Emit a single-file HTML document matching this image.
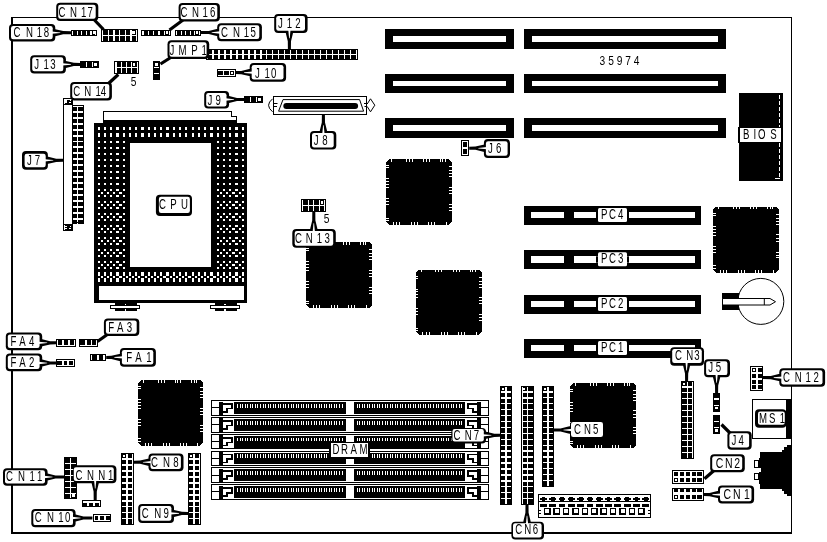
<!DOCTYPE html>
<html><head><meta charset="utf-8"><title>Motherboard layout 35974</title>
<style>
html,body{margin:0;padding:0;background:#fff;}
body{width:827px;height:542px;overflow:hidden;}
svg{display:block;will-change:transform;}
svg text{font-family:"Liberation Sans",sans-serif;fill:#000;}
</style></head><body>
<svg width="827" height="542" viewBox="0 0 827 542">
<rect x="0" y="0" width="827" height="542" fill="#fff"/>
<g shape-rendering="crispEdges">
<rect x="11" y="17" width="2" height="517" fill="#000"/>
<rect x="11" y="17" width="781" height="1" fill="#000"/>
<rect x="791" y="17" width="1" height="517" fill="#000"/>
<rect x="11" y="532" width="781" height="2" fill="#000"/>
<rect x="385" y="29" width="129" height="20" fill="#000"/>
<rect x="393" y="35.5" width="113" height="6.5" fill="#fff"/>
<rect x="524" y="29" width="202" height="20" fill="#000"/>
<rect x="532" y="35.5" width="185.5" height="6.5" fill="#fff"/>
<rect x="385" y="74" width="129" height="19" fill="#000"/>
<rect x="393" y="80.5" width="113" height="5.5" fill="#fff"/>
<rect x="524" y="74" width="202" height="19" fill="#000"/>
<rect x="532" y="80.5" width="185.5" height="5.5" fill="#fff"/>
<rect x="385" y="118" width="129" height="20" fill="#000"/>
<rect x="393" y="124.5" width="113" height="6.5" fill="#fff"/>
<rect x="524" y="118" width="202" height="20" fill="#000"/>
<rect x="532" y="124.5" width="185.5" height="6.5" fill="#fff"/>
<rect x="524" y="206" width="177" height="19" fill="#000"/>
<rect x="531" y="212" width="33.2" height="6.2" fill="#fff"/>
<rect x="573.5" y="212" width="121" height="6.2" fill="#fff"/>
<rect x="524" y="250.3" width="177" height="19" fill="#000"/>
<rect x="531" y="256.3" width="33.2" height="6.2" fill="#fff"/>
<rect x="573.5" y="256.3" width="121" height="6.2" fill="#fff"/>
<rect x="524" y="295" width="177" height="19" fill="#000"/>
<rect x="531" y="301" width="33.2" height="6.2" fill="#fff"/>
<rect x="573.5" y="301" width="121" height="6.2" fill="#fff"/>
<rect x="524" y="339" width="177" height="19" fill="#000"/>
<rect x="531" y="345" width="33.2" height="6.2" fill="#fff"/>
<rect x="573.5" y="345" width="121" height="6.2" fill="#fff"/>
<polygon points="389,159 448.5,159 451.5,162 451.5,222 448.5,225 389,225 386,222 386,162" fill="#000"/>
<path d="M391.39 158.8h1v3h-1zM405.81 158.8h1v3h-1zM408.75 158.8h1v3h-1zM411.7 158.8h1v3h-1zM422.83 158.8h1v3h-1zM425.78 158.8h1v3h-1zM428.73 158.8h1v3h-1zM439.87 158.8h1v3h-1zM442.49 158.8h1v3h-1zM444.78 158.8h1v3h-1zM392.7 222.2h1v3h-1zM395.98 222.2h1v3h-1zM399.25 222.2h1v3h-1zM411.05 222.2h1v3h-1zM413.99 222.2h1v3h-1zM416.94 222.2h1v3h-1zM428.07 222.2h1v3h-1zM431.02 222.2h1v3h-1zM433.97 222.2h1v3h-1zM445.76 222.2h1v3h-1zM385.8 165.1h3v1h-3zM385.8 167.41h3v1h-3zM385.8 178.3h3v1h-3zM385.8 181.27h3v1h-3zM385.8 184.24h3v1h-3zM385.8 187.21h3v1h-3zM385.8 198.1h3v1h-3zM385.8 201.07h3v1h-3zM385.8 204.04h3v1h-3zM385.8 217.9h3v1h-3zM385.8 220.21h3v1h-3zM448.7 166.42h3v1h-3zM448.7 170.38h3v1h-3zM448.7 173.35h3v1h-3zM448.7 176.32h3v1h-3zM448.7 186.88h3v1h-3zM448.7 190.18h3v1h-3zM448.7 193.48h3v1h-3zM448.7 204.04h3v1h-3zM448.7 207.01h3v1h-3zM448.7 209.98h3v1h-3z" fill="#fff"/>
<polygon points="309,242 369,242 372,245 372,305 369,308 309,308 306,305 306,245" fill="#000"/>
<path d="M311.44 241.8h1v3h-1zM325.96 241.8h1v3h-1zM328.93 241.8h1v3h-1zM331.9 241.8h1v3h-1zM343.12 241.8h1v3h-1zM346.09 241.8h1v3h-1zM349.06 241.8h1v3h-1zM360.28 241.8h1v3h-1zM362.92 241.8h1v3h-1zM365.23 241.8h1v3h-1zM312.76 305.2h1v3h-1zM316.06 305.2h1v3h-1zM319.36 305.2h1v3h-1zM331.24 305.2h1v3h-1zM334.21 305.2h1v3h-1zM337.18 305.2h1v3h-1zM348.4 305.2h1v3h-1zM351.37 305.2h1v3h-1zM354.34 305.2h1v3h-1zM366.22 305.2h1v3h-1zM305.8 248.1h3v1h-3zM305.8 250.41h3v1h-3zM305.8 261.3h3v1h-3zM305.8 264.27h3v1h-3zM305.8 267.24h3v1h-3zM305.8 270.21h3v1h-3zM305.8 281.1h3v1h-3zM305.8 284.07h3v1h-3zM305.8 287.04h3v1h-3zM305.8 300.9h3v1h-3zM305.8 303.21h3v1h-3zM369.2 249.42h3v1h-3zM369.2 253.38h3v1h-3zM369.2 256.35h3v1h-3zM369.2 259.32h3v1h-3zM369.2 269.88h3v1h-3zM369.2 273.18h3v1h-3zM369.2 276.48h3v1h-3zM369.2 287.04h3v1h-3zM369.2 290.01h3v1h-3zM369.2 292.98h3v1h-3z" fill="#fff"/>
<polygon points="418.5,269.5 478.5,269.5 481.5,272.5 481.5,331.5 478.5,334.5 418.5,334.5 415.5,331.5 415.5,272.5" fill="#000"/>
<path d="M420.94 269.3h1v3h-1zM435.46 269.3h1v3h-1zM438.43 269.3h1v3h-1zM441.4 269.3h1v3h-1zM452.62 269.3h1v3h-1zM455.59 269.3h1v3h-1zM458.56 269.3h1v3h-1zM469.78 269.3h1v3h-1zM472.42 269.3h1v3h-1zM474.73 269.3h1v3h-1zM422.26 331.7h1v3h-1zM425.56 331.7h1v3h-1zM428.86 331.7h1v3h-1zM440.74 331.7h1v3h-1zM443.71 331.7h1v3h-1zM446.68 331.7h1v3h-1zM457.9 331.7h1v3h-1zM460.87 331.7h1v3h-1zM463.84 331.7h1v3h-1zM475.72 331.7h1v3h-1zM415.3 275.5h3v1h-3zM415.3 277.77h3v1h-3zM415.3 288.5h3v1h-3zM415.3 291.43h3v1h-3zM415.3 294.35h3v1h-3zM415.3 297.27h3v1h-3zM415.3 308h3v1h-3zM415.3 310.93h3v1h-3zM415.3 313.85h3v1h-3zM415.3 327.5h3v1h-3zM415.3 329.77h3v1h-3zM478.7 276.8h3v1h-3zM478.7 280.7h3v1h-3zM478.7 283.62h3v1h-3zM478.7 286.55h3v1h-3zM478.7 296.95h3v1h-3zM478.7 300.2h3v1h-3zM478.7 303.45h3v1h-3zM478.7 313.85h3v1h-3zM478.7 316.77h3v1h-3zM478.7 319.7h3v1h-3z" fill="#fff"/>
<polygon points="716,206.5 776,206.5 779,209.5 779,269.5 776,272.5 716,272.5 713,269.5 713,209.5" fill="#000"/>
<path d="M718.44 206.3h1v3h-1zM732.96 206.3h1v3h-1zM735.93 206.3h1v3h-1zM738.9 206.3h1v3h-1zM750.12 206.3h1v3h-1zM753.09 206.3h1v3h-1zM756.06 206.3h1v3h-1zM767.28 206.3h1v3h-1zM769.92 206.3h1v3h-1zM772.23 206.3h1v3h-1zM719.76 269.7h1v3h-1zM723.06 269.7h1v3h-1zM726.36 269.7h1v3h-1zM738.24 269.7h1v3h-1zM741.21 269.7h1v3h-1zM744.18 269.7h1v3h-1zM755.4 269.7h1v3h-1zM758.37 269.7h1v3h-1zM761.34 269.7h1v3h-1zM773.22 269.7h1v3h-1zM712.8 212.6h3v1h-3zM712.8 214.91h3v1h-3zM712.8 225.8h3v1h-3zM712.8 228.77h3v1h-3zM712.8 231.74h3v1h-3zM712.8 234.71h3v1h-3zM712.8 245.6h3v1h-3zM712.8 248.57h3v1h-3zM712.8 251.54h3v1h-3zM712.8 265.4h3v1h-3zM712.8 267.71h3v1h-3zM776.2 213.92h3v1h-3zM776.2 217.88h3v1h-3zM776.2 220.85h3v1h-3zM776.2 223.82h3v1h-3zM776.2 234.38h3v1h-3zM776.2 237.68h3v1h-3zM776.2 240.98h3v1h-3zM776.2 251.54h3v1h-3zM776.2 254.51h3v1h-3zM776.2 257.48h3v1h-3z" fill="#fff"/>
<polygon points="141,380 200,380 203,383 203,442.5 200,445.5 141,445.5 138,442.5 138,383" fill="#000"/>
<path d="M143.35 379.8h1v3h-1zM157.65 379.8h1v3h-1zM160.57 379.8h1v3h-1zM163.5 379.8h1v3h-1zM174.55 379.8h1v3h-1zM177.47 379.8h1v3h-1zM180.4 379.8h1v3h-1zM191.45 379.8h1v3h-1zM194.05 379.8h1v3h-1zM196.32 379.8h1v3h-1zM144.65 442.7h1v3h-1zM147.9 442.7h1v3h-1zM151.15 442.7h1v3h-1zM162.85 442.7h1v3h-1zM165.78 442.7h1v3h-1zM168.7 442.7h1v3h-1zM179.75 442.7h1v3h-1zM182.68 442.7h1v3h-1zM185.6 442.7h1v3h-1zM197.3 442.7h1v3h-1zM137.8 386.05h3v1h-3zM137.8 388.34h3v1h-3zM137.8 399.15h3v1h-3zM137.8 402.1h3v1h-3zM137.8 405.05h3v1h-3zM137.8 407.99h3v1h-3zM137.8 418.8h3v1h-3zM137.8 421.75h3v1h-3zM137.8 424.69h3v1h-3zM137.8 438.45h3v1h-3zM137.8 440.74h3v1h-3zM200.2 387.36h3v1h-3zM200.2 391.29h3v1h-3zM200.2 394.24h3v1h-3zM200.2 397.19h3v1h-3zM200.2 407.67h3v1h-3zM200.2 410.94h3v1h-3zM200.2 414.22h3v1h-3zM200.2 424.69h3v1h-3zM200.2 427.64h3v1h-3zM200.2 430.59h3v1h-3z" fill="#fff"/>
<polygon points="573,383 633,383 636,386 636,445 633,448 573,448 570,445 570,386" fill="#000"/>
<path d="M575.44 382.8h1v3h-1zM589.96 382.8h1v3h-1zM592.93 382.8h1v3h-1zM595.9 382.8h1v3h-1zM607.12 382.8h1v3h-1zM610.09 382.8h1v3h-1zM613.06 382.8h1v3h-1zM624.28 382.8h1v3h-1zM626.92 382.8h1v3h-1zM629.23 382.8h1v3h-1zM576.76 445.2h1v3h-1zM580.06 445.2h1v3h-1zM583.36 445.2h1v3h-1zM595.24 445.2h1v3h-1zM598.21 445.2h1v3h-1zM601.18 445.2h1v3h-1zM612.4 445.2h1v3h-1zM615.37 445.2h1v3h-1zM618.34 445.2h1v3h-1zM630.22 445.2h1v3h-1zM569.8 389h3v1h-3zM569.8 391.27h3v1h-3zM569.8 402h3v1h-3zM569.8 404.93h3v1h-3zM569.8 407.85h3v1h-3zM569.8 410.77h3v1h-3zM569.8 421.5h3v1h-3zM569.8 424.43h3v1h-3zM569.8 427.35h3v1h-3zM569.8 441h3v1h-3zM569.8 443.27h3v1h-3zM633.2 390.3h3v1h-3zM633.2 394.2h3v1h-3zM633.2 397.12h3v1h-3zM633.2 400.05h3v1h-3zM633.2 410.45h3v1h-3zM633.2 413.7h3v1h-3zM633.2 416.95h3v1h-3zM633.2 427.35h3v1h-3zM633.2 430.27h3v1h-3zM633.2 433.2h3v1h-3z" fill="#fff"/>
<rect x="739" y="93" width="43.5" height="88" fill="#000"/>
<rect x="779.2" y="95" width="1" height="3.5" fill="#fff"/>
<rect x="779.2" y="101" width="1" height="3.5" fill="#fff"/>
<rect x="779.2" y="107" width="1" height="3.5" fill="#fff"/>
<rect x="779.2" y="113" width="1" height="3.5" fill="#fff"/>
<rect x="779.2" y="119" width="1" height="3.5" fill="#fff"/>
<rect x="779.2" y="125" width="1" height="3.5" fill="#fff"/>
<rect x="779.2" y="131" width="1" height="3.5" fill="#fff"/>
<rect x="779.2" y="137" width="1" height="3.5" fill="#fff"/>
<rect x="779.2" y="143" width="1" height="3.5" fill="#fff"/>
<rect x="779.2" y="149" width="1" height="3.5" fill="#fff"/>
<rect x="779.2" y="155" width="1" height="3.5" fill="#fff"/>
<rect x="779.2" y="161" width="1" height="3.5" fill="#fff"/>
<rect x="779.2" y="167" width="1" height="3.5" fill="#fff"/>
<rect x="779.2" y="173" width="1" height="3.5" fill="#fff"/>
<rect x="775" y="178" width="5.2" height="1" fill="#fff"/>
</g>
<circle cx="760.8" cy="301.4" r="23" fill="#fff" stroke="#000" stroke-width="1"/>
<g shape-rendering="crispEdges">
<rect x="722" y="293" width="17" height="17" fill="#000"/>
</g>
<path d="M722.5 298.5 H770 L775.5 301.7 L770 305 H722.5 Z" fill="#fff" stroke="#000" stroke-width="1"/>
<line x1="764.3" y1="298.5" x2="764.3" y2="305" stroke="#000" stroke-width="1"/>
<g shape-rendering="crispEdges">
<rect x="231.5" y="116.5" width="4.5" height="4" fill="#fff" stroke="#000" stroke-width="1"/>
<rect x="103.5" y="111.5" width="128.2" height="9" fill="#fff" stroke="#000" stroke-width="1"/>
<rect x="231.2" y="117" width="1" height="3" fill="#fff"/>
<rect x="94" y="123.4" width="153" height="179.6" fill="#000"/>
<rect x="103" y="120" width="133.5" height="4" fill="#000"/>
<path d="M97.5 278.4h2.2v3.1h-2.2zM103.77 278.4h2.2v3.1h-2.2zM110.04 278.4h2.2v3.1h-2.2zM116.31 278.4h2.2v3.1h-2.2zM122.58 278.4h2.2v3.1h-2.2zM128.85 278.4h2.2v3.1h-2.2zM135.12 278.4h2.2v3.1h-2.2zM141.39 278.4h2.2v3.1h-2.2zM147.66 278.4h2.2v3.1h-2.2zM153.93 278.4h2.2v3.1h-2.2zM160.2 278.4h2.2v3.1h-2.2zM166.47 278.4h2.2v3.1h-2.2zM172.74 278.4h2.2v3.1h-2.2zM179.01 278.4h2.2v3.1h-2.2zM185.28 278.4h2.2v3.1h-2.2zM191.55 278.4h2.2v3.1h-2.2zM197.82 278.4h2.2v3.1h-2.2zM204.09 278.4h2.2v3.1h-2.2zM210.36 278.4h2.2v3.1h-2.2zM216.63 278.4h2.2v3.1h-2.2zM222.9 278.4h2.2v3.1h-2.2zM229.17 278.4h2.2v3.1h-2.2zM235.44 278.4h2.2v3.1h-2.2zM241.71 278.4h2.2v3.1h-2.2zM97.5 272.4h2.2v3.1h-2.2zM103.77 272.4h2.2v3.1h-2.2zM110.04 272.4h2.2v3.1h-2.2zM116.31 272.4h2.2v3.1h-2.2zM122.58 272.4h2.2v3.1h-2.2zM128.85 272.4h2.2v3.1h-2.2zM135.12 272.4h2.2v3.1h-2.2zM141.39 272.4h2.2v3.1h-2.2zM147.66 272.4h2.2v3.1h-2.2zM153.93 272.4h2.2v3.1h-2.2zM160.2 272.4h2.2v3.1h-2.2zM166.47 272.4h2.2v3.1h-2.2zM172.74 272.4h2.2v3.1h-2.2zM179.01 272.4h2.2v3.1h-2.2zM185.28 272.4h2.2v3.1h-2.2zM191.55 272.4h2.2v3.1h-2.2zM197.82 272.4h2.2v3.1h-2.2zM204.09 272.4h2.2v3.1h-2.2zM210.36 272.4h2.2v3.1h-2.2zM216.63 272.4h2.2v3.1h-2.2zM222.9 272.4h2.2v3.1h-2.2zM229.17 272.4h2.2v3.1h-2.2zM235.44 272.4h2.2v3.1h-2.2zM241.71 272.4h2.2v3.1h-2.2zM97.5 266.6h2.2v2.7h-2.2zM103.77 266.6h2.2v2.7h-2.2zM110.04 266.6h2.2v2.7h-2.2zM116.31 266.6h2.2v2.7h-2.2zM122.58 266.6h2.2v2.7h-2.2zM216.63 266.6h2.2v2.7h-2.2zM222.9 266.6h2.2v2.7h-2.2zM229.17 266.6h2.2v2.7h-2.2zM235.44 266.6h2.2v2.7h-2.2zM241.71 266.6h2.2v2.7h-2.2zM97.5 260.6h2.2v2.7h-2.2zM103.77 260.6h2.2v2.7h-2.2zM110.04 260.6h2.2v2.7h-2.2zM116.31 260.6h2.2v2.7h-2.2zM122.58 260.6h2.2v2.7h-2.2zM216.63 260.6h2.2v2.7h-2.2zM222.9 260.6h2.2v2.7h-2.2zM229.17 260.6h2.2v2.7h-2.2zM235.44 260.6h2.2v2.7h-2.2zM241.71 260.6h2.2v2.7h-2.2zM97.5 254.6h2.2v2.7h-2.2zM103.77 254.6h2.2v2.7h-2.2zM110.04 254.6h2.2v2.7h-2.2zM116.31 254.6h2.2v2.7h-2.2zM122.58 254.6h2.2v2.7h-2.2zM216.63 254.6h2.2v2.7h-2.2zM222.9 254.6h2.2v2.7h-2.2zM229.17 254.6h2.2v2.7h-2.2zM235.44 254.6h2.2v2.7h-2.2zM241.71 254.6h2.2v2.7h-2.2zM97.5 248.6h2.2v2.7h-2.2zM103.77 248.6h2.2v2.7h-2.2zM110.04 248.6h2.2v2.7h-2.2zM116.31 248.6h2.2v2.7h-2.2zM122.58 248.6h2.2v2.7h-2.2zM216.63 248.6h2.2v2.7h-2.2zM222.9 248.6h2.2v2.7h-2.2zM229.17 248.6h2.2v2.7h-2.2zM235.44 248.6h2.2v2.7h-2.2zM241.71 248.6h2.2v2.7h-2.2zM97.5 242.6h2.2v2.7h-2.2zM103.77 242.6h2.2v2.7h-2.2zM110.04 242.6h2.2v2.7h-2.2zM116.31 242.6h2.2v2.7h-2.2zM122.58 242.6h2.2v2.7h-2.2zM216.63 242.6h2.2v2.7h-2.2zM222.9 242.6h2.2v2.7h-2.2zM229.17 242.6h2.2v2.7h-2.2zM235.44 242.6h2.2v2.7h-2.2zM241.71 242.6h2.2v2.7h-2.2zM97.5 236.6h2.2v2.7h-2.2zM103.77 236.6h2.2v2.7h-2.2zM110.04 236.6h2.2v2.7h-2.2zM116.31 236.6h2.2v2.7h-2.2zM122.58 236.6h2.2v2.7h-2.2zM216.63 236.6h2.2v2.7h-2.2zM222.9 236.6h2.2v2.7h-2.2zM229.17 236.6h2.2v2.7h-2.2zM235.44 236.6h2.2v2.7h-2.2zM241.71 236.6h2.2v2.7h-2.2zM97.5 230.6h2.2v2.7h-2.2zM103.77 230.6h2.2v2.7h-2.2zM110.04 230.6h2.2v2.7h-2.2zM116.31 230.6h2.2v2.7h-2.2zM122.58 230.6h2.2v2.7h-2.2zM216.63 230.6h2.2v2.7h-2.2zM222.9 230.6h2.2v2.7h-2.2zM229.17 230.6h2.2v2.7h-2.2zM235.44 230.6h2.2v2.7h-2.2zM241.71 230.6h2.2v2.7h-2.2zM97.5 224.6h2.2v2.7h-2.2zM103.77 224.6h2.2v2.7h-2.2zM110.04 224.6h2.2v2.7h-2.2zM116.31 224.6h2.2v2.7h-2.2zM122.58 224.6h2.2v2.7h-2.2zM216.63 224.6h2.2v2.7h-2.2zM222.9 224.6h2.2v2.7h-2.2zM229.17 224.6h2.2v2.7h-2.2zM235.44 224.6h2.2v2.7h-2.2zM241.71 224.6h2.2v2.7h-2.2zM97.5 218.6h2.2v2.7h-2.2zM103.77 218.6h2.2v2.7h-2.2zM110.04 218.6h2.2v2.7h-2.2zM116.31 218.6h2.2v2.7h-2.2zM122.58 218.6h2.2v2.7h-2.2zM216.63 218.6h2.2v2.7h-2.2zM222.9 218.6h2.2v2.7h-2.2zM229.17 218.6h2.2v2.7h-2.2zM235.44 218.6h2.2v2.7h-2.2zM241.71 218.6h2.2v2.7h-2.2zM97.5 212.6h2.2v2.7h-2.2zM103.77 212.6h2.2v2.7h-2.2zM110.04 212.6h2.2v2.7h-2.2zM116.31 212.6h2.2v2.7h-2.2zM122.58 212.6h2.2v2.7h-2.2zM216.63 212.6h2.2v2.7h-2.2zM222.9 212.6h2.2v2.7h-2.2zM229.17 212.6h2.2v2.7h-2.2zM235.44 212.6h2.2v2.7h-2.2zM241.71 212.6h2.2v2.7h-2.2zM97.5 206.6h2.2v2.7h-2.2zM103.77 206.6h2.2v2.7h-2.2zM110.04 206.6h2.2v2.7h-2.2zM116.31 206.6h2.2v2.7h-2.2zM122.58 206.6h2.2v2.7h-2.2zM216.63 206.6h2.2v2.7h-2.2zM222.9 206.6h2.2v2.7h-2.2zM229.17 206.6h2.2v2.7h-2.2zM235.44 206.6h2.2v2.7h-2.2zM241.71 206.6h2.2v2.7h-2.2zM97.5 200.6h2.2v2.7h-2.2zM103.77 200.6h2.2v2.7h-2.2zM110.04 200.6h2.2v2.7h-2.2zM116.31 200.6h2.2v2.7h-2.2zM122.58 200.6h2.2v2.7h-2.2zM216.63 200.6h2.2v2.7h-2.2zM222.9 200.6h2.2v2.7h-2.2zM229.17 200.6h2.2v2.7h-2.2zM235.44 200.6h2.2v2.7h-2.2zM241.71 200.6h2.2v2.7h-2.2zM97.5 194.6h2.2v2.7h-2.2zM103.77 194.6h2.2v2.7h-2.2zM110.04 194.6h2.2v2.7h-2.2zM116.31 194.6h2.2v2.7h-2.2zM122.58 194.6h2.2v2.7h-2.2zM216.63 194.6h2.2v2.7h-2.2zM222.9 194.6h2.2v2.7h-2.2zM229.17 194.6h2.2v2.7h-2.2zM235.44 194.6h2.2v2.7h-2.2zM241.71 194.6h2.2v2.7h-2.2zM97.5 188.6h2.2v2.7h-2.2zM103.77 188.6h2.2v2.7h-2.2zM110.04 188.6h2.2v2.7h-2.2zM116.31 188.6h2.2v2.7h-2.2zM122.58 188.6h2.2v2.7h-2.2zM216.63 188.6h2.2v2.7h-2.2zM222.9 188.6h2.2v2.7h-2.2zM229.17 188.6h2.2v2.7h-2.2zM235.44 188.6h2.2v2.7h-2.2zM241.71 188.6h2.2v2.7h-2.2zM97.5 182.7h2.2v2.6h-2.2zM103.77 182.7h2.2v2.6h-2.2zM110.04 182.7h2.2v2.6h-2.2zM116.31 182.7h2.2v2.6h-2.2zM122.58 182.7h2.2v2.6h-2.2zM216.63 182.7h2.2v2.6h-2.2zM222.9 182.7h2.2v2.6h-2.2zM229.17 182.7h2.2v2.6h-2.2zM235.44 182.7h2.2v2.6h-2.2zM241.71 182.7h2.2v2.6h-2.2zM97.5 176.7h2.2v2.6h-2.2zM103.77 176.7h2.2v2.6h-2.2zM110.04 176.7h2.2v2.6h-2.2zM116.31 176.7h2.2v2.6h-2.2zM122.58 176.7h2.2v2.6h-2.2zM216.63 176.7h2.2v2.6h-2.2zM222.9 176.7h2.2v2.6h-2.2zM229.17 176.7h2.2v2.6h-2.2zM235.44 176.7h2.2v2.6h-2.2zM241.71 176.7h2.2v2.6h-2.2zM97.5 170.7h2.2v2.6h-2.2zM103.77 170.7h2.2v2.6h-2.2zM110.04 170.7h2.2v2.6h-2.2zM116.31 170.7h2.2v2.6h-2.2zM122.58 170.7h2.2v2.6h-2.2zM216.63 170.7h2.2v2.6h-2.2zM222.9 170.7h2.2v2.6h-2.2zM229.17 170.7h2.2v2.6h-2.2zM235.44 170.7h2.2v2.6h-2.2zM241.71 170.7h2.2v2.6h-2.2zM97.5 164.7h2.2v2.6h-2.2zM103.77 164.7h2.2v2.6h-2.2zM110.04 164.7h2.2v2.6h-2.2zM116.31 164.7h2.2v2.6h-2.2zM122.58 164.7h2.2v2.6h-2.2zM216.63 164.7h2.2v2.6h-2.2zM222.9 164.7h2.2v2.6h-2.2zM229.17 164.7h2.2v2.6h-2.2zM235.44 164.7h2.2v2.6h-2.2zM241.71 164.7h2.2v2.6h-2.2zM97.5 158.7h2.2v2.6h-2.2zM103.77 158.7h2.2v2.6h-2.2zM110.04 158.7h2.2v2.6h-2.2zM116.31 158.7h2.2v2.6h-2.2zM122.58 158.7h2.2v2.6h-2.2zM216.63 158.7h2.2v2.6h-2.2zM222.9 158.7h2.2v2.6h-2.2zM229.17 158.7h2.2v2.6h-2.2zM235.44 158.7h2.2v2.6h-2.2zM241.71 158.7h2.2v2.6h-2.2zM97.5 152.7h2.2v2.6h-2.2zM103.77 152.7h2.2v2.6h-2.2zM110.04 152.7h2.2v2.6h-2.2zM116.31 152.7h2.2v2.6h-2.2zM122.58 152.7h2.2v2.6h-2.2zM216.63 152.7h2.2v2.6h-2.2zM222.9 152.7h2.2v2.6h-2.2zM229.17 152.7h2.2v2.6h-2.2zM235.44 152.7h2.2v2.6h-2.2zM241.71 152.7h2.2v2.6h-2.2zM97.5 146.7h2.2v2.6h-2.2zM103.77 146.7h2.2v2.6h-2.2zM110.04 146.7h2.2v2.6h-2.2zM116.31 146.7h2.2v2.6h-2.2zM122.58 146.7h2.2v2.6h-2.2zM216.63 146.7h2.2v2.6h-2.2zM222.9 146.7h2.2v2.6h-2.2zM229.17 146.7h2.2v2.6h-2.2zM235.44 146.7h2.2v2.6h-2.2zM241.71 146.7h2.2v2.6h-2.2zM97.5 140.7h2.2v2.6h-2.2zM103.77 140.7h2.2v2.6h-2.2zM110.04 140.7h2.2v2.6h-2.2zM116.31 140.7h2.2v2.6h-2.2zM122.58 140.7h2.2v2.6h-2.2zM216.63 140.7h2.2v2.6h-2.2zM222.9 140.7h2.2v2.6h-2.2zM229.17 140.7h2.2v2.6h-2.2zM235.44 140.7h2.2v2.6h-2.2zM241.71 140.7h2.2v2.6h-2.2zM97.5 133.4h2.2v3.1h-2.2zM103.77 133.4h2.2v3.1h-2.2zM110.04 133.4h2.2v3.1h-2.2zM116.31 133.4h2.2v3.1h-2.2zM122.58 133.4h2.2v3.1h-2.2zM128.85 133.4h2.2v3.1h-2.2zM135.12 133.4h2.2v3.1h-2.2zM141.39 133.4h2.2v3.1h-2.2zM147.66 133.4h2.2v3.1h-2.2zM153.93 133.4h2.2v3.1h-2.2zM160.2 133.4h2.2v3.1h-2.2zM166.47 133.4h2.2v3.1h-2.2zM172.74 133.4h2.2v3.1h-2.2zM179.01 133.4h2.2v3.1h-2.2zM185.28 133.4h2.2v3.1h-2.2zM191.55 133.4h2.2v3.1h-2.2zM197.82 133.4h2.2v3.1h-2.2zM204.09 133.4h2.2v3.1h-2.2zM210.36 133.4h2.2v3.1h-2.2zM216.63 133.4h2.2v3.1h-2.2zM222.9 133.4h2.2v3.1h-2.2zM229.17 133.4h2.2v3.1h-2.2zM235.44 133.4h2.2v3.1h-2.2zM241.71 133.4h2.2v3.1h-2.2zM97.5 127h2.2v3.1h-2.2zM103.77 127h2.2v3.1h-2.2zM110.04 127h2.2v3.1h-2.2zM116.31 127h2.2v3.1h-2.2zM122.58 127h2.2v3.1h-2.2zM128.85 127h2.2v3.1h-2.2zM135.12 127h2.2v3.1h-2.2zM141.39 127h2.2v3.1h-2.2zM147.66 127h2.2v3.1h-2.2zM153.93 127h2.2v3.1h-2.2zM160.2 127h2.2v3.1h-2.2zM166.47 127h2.2v3.1h-2.2zM172.74 127h2.2v3.1h-2.2zM179.01 127h2.2v3.1h-2.2zM185.28 127h2.2v3.1h-2.2zM191.55 127h2.2v3.1h-2.2zM197.82 127h2.2v3.1h-2.2zM204.09 127h2.2v3.1h-2.2zM210.36 127h2.2v3.1h-2.2zM216.63 127h2.2v3.1h-2.2zM222.9 127h2.2v3.1h-2.2zM229.17 127h2.2v3.1h-2.2zM235.44 127h2.2v3.1h-2.2zM241.71 127h2.2v3.1h-2.2zM100.63 275.8h2.2v2.4h-2.2zM106.91 275.8h2.2v2.4h-2.2zM113.17 275.8h2.2v2.4h-2.2zM119.44 275.8h2.2v2.4h-2.2zM125.72 275.8h2.2v2.4h-2.2zM131.98 275.8h2.2v2.4h-2.2zM138.26 275.8h2.2v2.4h-2.2zM144.53 275.8h2.2v2.4h-2.2zM150.79 275.8h2.2v2.4h-2.2zM157.06 275.8h2.2v2.4h-2.2zM163.34 275.8h2.2v2.4h-2.2zM169.6 275.8h2.2v2.4h-2.2zM175.87 275.8h2.2v2.4h-2.2zM182.15 275.8h2.2v2.4h-2.2zM188.41 275.8h2.2v2.4h-2.2zM194.68 275.8h2.2v2.4h-2.2zM200.96 275.8h2.2v2.4h-2.2zM207.22 275.8h2.2v2.4h-2.2zM213.49 275.8h2.2v2.4h-2.2zM219.77 275.8h2.2v2.4h-2.2zM226.03 275.8h2.2v2.4h-2.2zM232.3 275.8h2.2v2.4h-2.2zM238.57 275.8h2.2v2.4h-2.2zM100.63 263.8h2.2v2.4h-2.2zM106.91 263.8h2.2v2.4h-2.2zM113.17 263.8h2.2v2.4h-2.2zM119.44 263.8h2.2v2.4h-2.2zM219.77 263.8h2.2v2.4h-2.2zM226.03 263.8h2.2v2.4h-2.2zM232.3 263.8h2.2v2.4h-2.2zM238.57 263.8h2.2v2.4h-2.2zM100.63 251.8h2.2v2.4h-2.2zM106.91 251.8h2.2v2.4h-2.2zM113.17 251.8h2.2v2.4h-2.2zM119.44 251.8h2.2v2.4h-2.2zM219.77 251.8h2.2v2.4h-2.2zM226.03 251.8h2.2v2.4h-2.2zM232.3 251.8h2.2v2.4h-2.2zM238.57 251.8h2.2v2.4h-2.2zM100.63 239.8h2.2v2.4h-2.2zM106.91 239.8h2.2v2.4h-2.2zM113.17 239.8h2.2v2.4h-2.2zM119.44 239.8h2.2v2.4h-2.2zM219.77 239.8h2.2v2.4h-2.2zM226.03 239.8h2.2v2.4h-2.2zM232.3 239.8h2.2v2.4h-2.2zM238.57 239.8h2.2v2.4h-2.2zM100.63 227.8h2.2v2.4h-2.2zM106.91 227.8h2.2v2.4h-2.2zM113.17 227.8h2.2v2.4h-2.2zM119.44 227.8h2.2v2.4h-2.2zM219.77 227.8h2.2v2.4h-2.2zM226.03 227.8h2.2v2.4h-2.2zM232.3 227.8h2.2v2.4h-2.2zM238.57 227.8h2.2v2.4h-2.2zM100.63 215.8h2.2v2.4h-2.2zM106.91 215.8h2.2v2.4h-2.2zM113.17 215.8h2.2v2.4h-2.2zM119.44 215.8h2.2v2.4h-2.2zM219.77 215.8h2.2v2.4h-2.2zM226.03 215.8h2.2v2.4h-2.2zM232.3 215.8h2.2v2.4h-2.2zM238.57 215.8h2.2v2.4h-2.2zM100.63 203.8h2.2v2.4h-2.2zM106.91 203.8h2.2v2.4h-2.2zM113.17 203.8h2.2v2.4h-2.2zM119.44 203.8h2.2v2.4h-2.2zM219.77 203.8h2.2v2.4h-2.2zM226.03 203.8h2.2v2.4h-2.2zM232.3 203.8h2.2v2.4h-2.2zM238.57 203.8h2.2v2.4h-2.2zM100.63 191.8h2.2v2.4h-2.2zM106.91 191.8h2.2v2.4h-2.2zM113.17 191.8h2.2v2.4h-2.2zM119.44 191.8h2.2v2.4h-2.2zM219.77 191.8h2.2v2.4h-2.2zM226.03 191.8h2.2v2.4h-2.2zM232.3 191.8h2.2v2.4h-2.2zM238.57 191.8h2.2v2.4h-2.2z" fill="#fff"/>
<rect x="126" y="138.5" width="88.5" height="133" fill="#000"/>
<rect x="129.8" y="142.5" width="80.7" height="124.5" fill="#fff"/>
<rect x="98.5" y="286" width="145.5" height="14" fill="#fff"/>
<rect x="115" y="303" width="22" height="8" fill="#000"/>
<rect x="110.5" y="305.5" width="29" height="3" fill="#fff" stroke="#000" stroke-width="1"/>
<rect x="124.5" y="303.5" width="1.5" height="1.5" fill="#fff"/>
<rect x="124.5" y="309" width="1.5" height="2" fill="#fff"/>
<rect x="214.5" y="303" width="22" height="8" fill="#000"/>
<rect x="210" y="305.5" width="29" height="3" fill="#fff" stroke="#000" stroke-width="1"/>
<rect x="224" y="303.5" width="1.5" height="1.5" fill="#fff"/>
<rect x="224" y="309" width="1.5" height="2" fill="#fff"/>
<rect x="63.5" y="98.5" width="9.4" height="132" fill="#fff" stroke="#000" stroke-width="1"/>
<rect x="72.9" y="105.5" width="10.6" height="116.5" fill="#fff" stroke="#000" stroke-width="1"/>
<rect x="73.2" y="106.8" width="3.7" height="4" fill="#000"/>
<rect x="78.2" y="106.8" width="5.8" height="4" fill="#000"/>
<rect x="73.2" y="112.74" width="3.7" height="4" fill="#000"/>
<rect x="78.2" y="112.74" width="5.8" height="4" fill="#000"/>
<rect x="73.2" y="118.68" width="3.7" height="4" fill="#000"/>
<rect x="78.2" y="118.68" width="5.8" height="4" fill="#000"/>
<rect x="73.2" y="124.62" width="3.7" height="4" fill="#000"/>
<rect x="78.2" y="124.62" width="5.8" height="4" fill="#000"/>
<rect x="73.2" y="130.56" width="3.7" height="4" fill="#000"/>
<rect x="78.2" y="130.56" width="5.8" height="4" fill="#000"/>
<rect x="73.2" y="136.5" width="3.7" height="4" fill="#000"/>
<rect x="78.2" y="136.5" width="5.8" height="4" fill="#000"/>
<rect x="73.2" y="142.44" width="3.7" height="4" fill="#000"/>
<rect x="78.2" y="142.44" width="5.8" height="4" fill="#000"/>
<rect x="73.2" y="148.38" width="3.7" height="4" fill="#000"/>
<rect x="78.2" y="148.38" width="5.8" height="4" fill="#000"/>
<rect x="73.2" y="154.32" width="3.7" height="4" fill="#000"/>
<rect x="78.2" y="154.32" width="5.8" height="4" fill="#000"/>
<rect x="73.2" y="160.26" width="3.7" height="4" fill="#000"/>
<rect x="78.2" y="160.26" width="5.8" height="4" fill="#000"/>
<rect x="73.2" y="166.2" width="3.7" height="4" fill="#000"/>
<rect x="78.2" y="166.2" width="5.8" height="4" fill="#000"/>
<rect x="73.2" y="172.14" width="3.7" height="4" fill="#000"/>
<rect x="78.2" y="172.14" width="5.8" height="4" fill="#000"/>
<rect x="73.2" y="178.08" width="3.7" height="4" fill="#000"/>
<rect x="78.2" y="178.08" width="5.8" height="4" fill="#000"/>
<rect x="73.2" y="184.02" width="3.7" height="4" fill="#000"/>
<rect x="78.2" y="184.02" width="5.8" height="4" fill="#000"/>
<rect x="73.2" y="189.96" width="3.7" height="4" fill="#000"/>
<rect x="78.2" y="189.96" width="5.8" height="4" fill="#000"/>
<rect x="73.2" y="195.9" width="3.7" height="4" fill="#000"/>
<rect x="78.2" y="195.9" width="5.8" height="4" fill="#000"/>
<rect x="73.2" y="201.84" width="3.7" height="4" fill="#000"/>
<rect x="78.2" y="201.84" width="5.8" height="4" fill="#000"/>
<rect x="73.2" y="207.78" width="3.7" height="4" fill="#000"/>
<rect x="78.2" y="207.78" width="5.8" height="4" fill="#000"/>
<rect x="73.2" y="213.72" width="3.7" height="4" fill="#000"/>
<rect x="78.2" y="213.72" width="5.8" height="4" fill="#000"/>
<rect x="73.2" y="219.66" width="3.7" height="4" fill="#000"/>
<rect x="78.2" y="219.66" width="5.8" height="4" fill="#000"/>
<rect x="64.5" y="99.5" width="7" height="4.5" fill="#000"/>
<rect x="65.3" y="100.1" width="2" height="1.4" fill="#fff"/>
<rect x="65.3" y="102.3" width="2" height="0.9" fill="#fff"/>
<rect x="69" y="102.3" width="2" height="0.9" fill="#fff"/>
<rect x="69.5" y="100.4" width="1" height="0.9" fill="#fff"/>
<rect x="64.5" y="225" width="7" height="4.5" fill="#000"/>
<rect x="65.3" y="225.6" width="2" height="1.4" fill="#fff"/>
<rect x="65.3" y="227.8" width="2" height="0.9" fill="#fff"/>
<rect x="69" y="227.8" width="2" height="0.9" fill="#fff"/>
<rect x="69.5" y="225.9" width="1" height="0.9" fill="#fff"/>
<rect x="63" y="104" width="9.4" height="1" fill="#000"/>
<rect x="63" y="223.5" width="9.4" height="1" fill="#000"/>
<rect x="211.5" y="400.5" width="277" height="14.6" fill="#fff" stroke="#000" stroke-width="1"/>
<rect x="219" y="401.5" width="3.7" height="13.1" fill="#000"/>
<rect x="211" y="407.3" width="8" height="1" fill="#000"/>
<rect x="222.7" y="403" width="10.3" height="1.8" fill="#000"/>
<rect x="231.4" y="403" width="1.8" height="6.4" fill="#000"/>
<rect x="226.2" y="407.8" width="7" height="1.6" fill="#000"/>
<rect x="226.2" y="407.8" width="1.8" height="4.8" fill="#000"/>
<rect x="222.7" y="411" width="5.3" height="1.6" fill="#000"/>
<rect x="234.3" y="402" width="111.2" height="11.8" fill="#000"/>
<rect x="354" y="402" width="111" height="11.8" fill="#000"/>
<path d="M237 403.8h1v3.9h-1zM239.55 403.8h1v3.9h-1zM242.1 403.8h1v3.9h-1zM244.65 403.8h1v3.9h-1zM247.2 403.8h1v3.9h-1zM249.75 403.8h1v3.9h-1zM252.3 403.8h1v3.9h-1zM254.85 403.8h1v3.9h-1zM257.4 403.8h1v3.9h-1zM259.95 403.8h1v3.9h-1zM262.5 403.8h1v3.9h-1zM265.05 403.8h1v3.9h-1zM267.6 403.8h1v3.9h-1zM270.15 403.8h1v3.9h-1zM272.7 403.8h1v3.9h-1zM275.25 403.8h1v3.9h-1zM277.8 403.8h1v3.9h-1zM280.35 403.8h1v3.9h-1zM282.9 403.8h1v3.9h-1zM285.45 403.8h1v3.9h-1zM288 403.8h1v3.9h-1zM290.55 403.8h1v3.9h-1zM293.1 403.8h1v3.9h-1zM295.65 403.8h1v3.9h-1zM298.2 403.8h1v3.9h-1zM300.75 403.8h1v3.9h-1zM303.3 403.8h1v3.9h-1zM305.85 403.8h1v3.9h-1zM308.4 403.8h1v3.9h-1zM310.95 403.8h1v3.9h-1zM313.5 403.8h1v3.9h-1zM316.05 403.8h1v3.9h-1zM318.6 403.8h1v3.9h-1zM321.15 403.8h1v3.9h-1zM323.7 403.8h1v3.9h-1zM326.25 403.8h1v3.9h-1zM328.8 403.8h1v3.9h-1zM331.35 403.8h1v3.9h-1zM333.9 403.8h1v3.9h-1zM336.45 403.8h1v3.9h-1zM339 403.8h1v3.9h-1zM341.55 403.8h1v3.9h-1zM356.5 403.8h1v3.9h-1zM359.05 403.8h1v3.9h-1zM361.6 403.8h1v3.9h-1zM364.15 403.8h1v3.9h-1zM366.7 403.8h1v3.9h-1zM369.25 403.8h1v3.9h-1zM371.8 403.8h1v3.9h-1zM374.35 403.8h1v3.9h-1zM376.9 403.8h1v3.9h-1zM379.45 403.8h1v3.9h-1zM382 403.8h1v3.9h-1zM384.55 403.8h1v3.9h-1zM387.1 403.8h1v3.9h-1zM389.65 403.8h1v3.9h-1zM392.2 403.8h1v3.9h-1zM394.75 403.8h1v3.9h-1zM397.3 403.8h1v3.9h-1zM399.85 403.8h1v3.9h-1zM402.4 403.8h1v3.9h-1zM404.95 403.8h1v3.9h-1zM407.5 403.8h1v3.9h-1zM410.05 403.8h1v3.9h-1zM412.6 403.8h1v3.9h-1zM415.15 403.8h1v3.9h-1zM417.7 403.8h1v3.9h-1zM420.25 403.8h1v3.9h-1zM422.8 403.8h1v3.9h-1zM425.35 403.8h1v3.9h-1zM427.9 403.8h1v3.9h-1zM430.45 403.8h1v3.9h-1zM433 403.8h1v3.9h-1zM435.55 403.8h1v3.9h-1zM438.1 403.8h1v3.9h-1zM440.65 403.8h1v3.9h-1zM443.2 403.8h1v3.9h-1zM445.75 403.8h1v3.9h-1zM448.3 403.8h1v3.9h-1zM450.85 403.8h1v3.9h-1zM453.4 403.8h1v3.9h-1zM455.95 403.8h1v3.9h-1zM458.5 403.8h1v3.9h-1zM461.05 403.8h1v3.9h-1z" fill="#fff"/>
<rect x="477.3" y="401.5" width="3.7" height="13.1" fill="#000"/>
<rect x="481" y="407.3" width="8" height="1" fill="#000"/>
<rect x="467" y="403" width="10.3" height="1.8" fill="#000"/>
<rect x="467" y="403" width="1.8" height="6.4" fill="#000"/>
<rect x="467" y="407.8" width="7" height="1.6" fill="#000"/>
<rect x="472.2" y="407.8" width="1.8" height="4.8" fill="#000"/>
<rect x="472.2" y="411" width="5.1" height="1.6" fill="#000"/>
<rect x="211.5" y="417.4" width="277" height="14.6" fill="#fff" stroke="#000" stroke-width="1"/>
<rect x="219" y="418.4" width="3.7" height="13.1" fill="#000"/>
<rect x="211" y="424.2" width="8" height="1" fill="#000"/>
<rect x="222.7" y="419.9" width="10.3" height="1.8" fill="#000"/>
<rect x="231.4" y="419.9" width="1.8" height="6.4" fill="#000"/>
<rect x="226.2" y="424.7" width="7" height="1.6" fill="#000"/>
<rect x="226.2" y="424.7" width="1.8" height="4.8" fill="#000"/>
<rect x="222.7" y="427.9" width="5.3" height="1.6" fill="#000"/>
<rect x="234.3" y="418.9" width="111.2" height="11.8" fill="#000"/>
<rect x="354" y="418.9" width="111" height="11.8" fill="#000"/>
<path d="M237 420.7h1v3.9h-1zM239.55 420.7h1v3.9h-1zM242.1 420.7h1v3.9h-1zM244.65 420.7h1v3.9h-1zM247.2 420.7h1v3.9h-1zM249.75 420.7h1v3.9h-1zM252.3 420.7h1v3.9h-1zM254.85 420.7h1v3.9h-1zM257.4 420.7h1v3.9h-1zM259.95 420.7h1v3.9h-1zM262.5 420.7h1v3.9h-1zM265.05 420.7h1v3.9h-1zM267.6 420.7h1v3.9h-1zM270.15 420.7h1v3.9h-1zM272.7 420.7h1v3.9h-1zM275.25 420.7h1v3.9h-1zM277.8 420.7h1v3.9h-1zM280.35 420.7h1v3.9h-1zM282.9 420.7h1v3.9h-1zM285.45 420.7h1v3.9h-1zM288 420.7h1v3.9h-1zM290.55 420.7h1v3.9h-1zM293.1 420.7h1v3.9h-1zM295.65 420.7h1v3.9h-1zM298.2 420.7h1v3.9h-1zM300.75 420.7h1v3.9h-1zM303.3 420.7h1v3.9h-1zM305.85 420.7h1v3.9h-1zM308.4 420.7h1v3.9h-1zM310.95 420.7h1v3.9h-1zM313.5 420.7h1v3.9h-1zM316.05 420.7h1v3.9h-1zM318.6 420.7h1v3.9h-1zM321.15 420.7h1v3.9h-1zM323.7 420.7h1v3.9h-1zM326.25 420.7h1v3.9h-1zM328.8 420.7h1v3.9h-1zM331.35 420.7h1v3.9h-1zM333.9 420.7h1v3.9h-1zM336.45 420.7h1v3.9h-1zM339 420.7h1v3.9h-1zM341.55 420.7h1v3.9h-1zM356.5 420.7h1v3.9h-1zM359.05 420.7h1v3.9h-1zM361.6 420.7h1v3.9h-1zM364.15 420.7h1v3.9h-1zM366.7 420.7h1v3.9h-1zM369.25 420.7h1v3.9h-1zM371.8 420.7h1v3.9h-1zM374.35 420.7h1v3.9h-1zM376.9 420.7h1v3.9h-1zM379.45 420.7h1v3.9h-1zM382 420.7h1v3.9h-1zM384.55 420.7h1v3.9h-1zM387.1 420.7h1v3.9h-1zM389.65 420.7h1v3.9h-1zM392.2 420.7h1v3.9h-1zM394.75 420.7h1v3.9h-1zM397.3 420.7h1v3.9h-1zM399.85 420.7h1v3.9h-1zM402.4 420.7h1v3.9h-1zM404.95 420.7h1v3.9h-1zM407.5 420.7h1v3.9h-1zM410.05 420.7h1v3.9h-1zM412.6 420.7h1v3.9h-1zM415.15 420.7h1v3.9h-1zM417.7 420.7h1v3.9h-1zM420.25 420.7h1v3.9h-1zM422.8 420.7h1v3.9h-1zM425.35 420.7h1v3.9h-1zM427.9 420.7h1v3.9h-1zM430.45 420.7h1v3.9h-1zM433 420.7h1v3.9h-1zM435.55 420.7h1v3.9h-1zM438.1 420.7h1v3.9h-1zM440.65 420.7h1v3.9h-1zM443.2 420.7h1v3.9h-1zM445.75 420.7h1v3.9h-1zM448.3 420.7h1v3.9h-1zM450.85 420.7h1v3.9h-1zM453.4 420.7h1v3.9h-1zM455.95 420.7h1v3.9h-1zM458.5 420.7h1v3.9h-1zM461.05 420.7h1v3.9h-1z" fill="#fff"/>
<rect x="477.3" y="418.4" width="3.7" height="13.1" fill="#000"/>
<rect x="481" y="424.2" width="8" height="1" fill="#000"/>
<rect x="467" y="419.9" width="10.3" height="1.8" fill="#000"/>
<rect x="467" y="419.9" width="1.8" height="6.4" fill="#000"/>
<rect x="467" y="424.7" width="7" height="1.6" fill="#000"/>
<rect x="472.2" y="424.7" width="1.8" height="4.8" fill="#000"/>
<rect x="472.2" y="427.9" width="5.1" height="1.6" fill="#000"/>
<rect x="211.5" y="434.2" width="277" height="14.6" fill="#fff" stroke="#000" stroke-width="1"/>
<rect x="219" y="435.2" width="3.7" height="13.1" fill="#000"/>
<rect x="211" y="441" width="8" height="1" fill="#000"/>
<rect x="222.7" y="436.7" width="10.3" height="1.8" fill="#000"/>
<rect x="231.4" y="436.7" width="1.8" height="6.4" fill="#000"/>
<rect x="226.2" y="441.5" width="7" height="1.6" fill="#000"/>
<rect x="226.2" y="441.5" width="1.8" height="4.8" fill="#000"/>
<rect x="222.7" y="444.7" width="5.3" height="1.6" fill="#000"/>
<rect x="234.3" y="435.7" width="111.2" height="11.8" fill="#000"/>
<rect x="354" y="435.7" width="111" height="11.8" fill="#000"/>
<path d="M237 437.5h1v3.9h-1zM239.55 437.5h1v3.9h-1zM242.1 437.5h1v3.9h-1zM244.65 437.5h1v3.9h-1zM247.2 437.5h1v3.9h-1zM249.75 437.5h1v3.9h-1zM252.3 437.5h1v3.9h-1zM254.85 437.5h1v3.9h-1zM257.4 437.5h1v3.9h-1zM259.95 437.5h1v3.9h-1zM262.5 437.5h1v3.9h-1zM265.05 437.5h1v3.9h-1zM267.6 437.5h1v3.9h-1zM270.15 437.5h1v3.9h-1zM272.7 437.5h1v3.9h-1zM275.25 437.5h1v3.9h-1zM277.8 437.5h1v3.9h-1zM280.35 437.5h1v3.9h-1zM282.9 437.5h1v3.9h-1zM285.45 437.5h1v3.9h-1zM288 437.5h1v3.9h-1zM290.55 437.5h1v3.9h-1zM293.1 437.5h1v3.9h-1zM295.65 437.5h1v3.9h-1zM298.2 437.5h1v3.9h-1zM300.75 437.5h1v3.9h-1zM303.3 437.5h1v3.9h-1zM305.85 437.5h1v3.9h-1zM308.4 437.5h1v3.9h-1zM310.95 437.5h1v3.9h-1zM313.5 437.5h1v3.9h-1zM316.05 437.5h1v3.9h-1zM318.6 437.5h1v3.9h-1zM321.15 437.5h1v3.9h-1zM323.7 437.5h1v3.9h-1zM326.25 437.5h1v3.9h-1zM328.8 437.5h1v3.9h-1zM331.35 437.5h1v3.9h-1zM333.9 437.5h1v3.9h-1zM336.45 437.5h1v3.9h-1zM339 437.5h1v3.9h-1zM341.55 437.5h1v3.9h-1zM356.5 437.5h1v3.9h-1zM359.05 437.5h1v3.9h-1zM361.6 437.5h1v3.9h-1zM364.15 437.5h1v3.9h-1zM366.7 437.5h1v3.9h-1zM369.25 437.5h1v3.9h-1zM371.8 437.5h1v3.9h-1zM374.35 437.5h1v3.9h-1zM376.9 437.5h1v3.9h-1zM379.45 437.5h1v3.9h-1zM382 437.5h1v3.9h-1zM384.55 437.5h1v3.9h-1zM387.1 437.5h1v3.9h-1zM389.65 437.5h1v3.9h-1zM392.2 437.5h1v3.9h-1zM394.75 437.5h1v3.9h-1zM397.3 437.5h1v3.9h-1zM399.85 437.5h1v3.9h-1zM402.4 437.5h1v3.9h-1zM404.95 437.5h1v3.9h-1zM407.5 437.5h1v3.9h-1zM410.05 437.5h1v3.9h-1zM412.6 437.5h1v3.9h-1zM415.15 437.5h1v3.9h-1zM417.7 437.5h1v3.9h-1zM420.25 437.5h1v3.9h-1zM422.8 437.5h1v3.9h-1zM425.35 437.5h1v3.9h-1zM427.9 437.5h1v3.9h-1zM430.45 437.5h1v3.9h-1zM433 437.5h1v3.9h-1zM435.55 437.5h1v3.9h-1zM438.1 437.5h1v3.9h-1zM440.65 437.5h1v3.9h-1zM443.2 437.5h1v3.9h-1zM445.75 437.5h1v3.9h-1zM448.3 437.5h1v3.9h-1zM450.85 437.5h1v3.9h-1zM453.4 437.5h1v3.9h-1zM455.95 437.5h1v3.9h-1zM458.5 437.5h1v3.9h-1zM461.05 437.5h1v3.9h-1z" fill="#fff"/>
<rect x="477.3" y="435.2" width="3.7" height="13.1" fill="#000"/>
<rect x="481" y="441" width="8" height="1" fill="#000"/>
<rect x="467" y="436.7" width="10.3" height="1.8" fill="#000"/>
<rect x="467" y="436.7" width="1.8" height="6.4" fill="#000"/>
<rect x="467" y="441.5" width="7" height="1.6" fill="#000"/>
<rect x="472.2" y="441.5" width="1.8" height="4.8" fill="#000"/>
<rect x="472.2" y="444.7" width="5.1" height="1.6" fill="#000"/>
<rect x="211.5" y="451" width="277" height="14.6" fill="#fff" stroke="#000" stroke-width="1"/>
<rect x="219" y="452" width="3.7" height="13.1" fill="#000"/>
<rect x="211" y="457.8" width="8" height="1" fill="#000"/>
<rect x="222.7" y="453.5" width="10.3" height="1.8" fill="#000"/>
<rect x="231.4" y="453.5" width="1.8" height="6.4" fill="#000"/>
<rect x="226.2" y="458.3" width="7" height="1.6" fill="#000"/>
<rect x="226.2" y="458.3" width="1.8" height="4.8" fill="#000"/>
<rect x="222.7" y="461.5" width="5.3" height="1.6" fill="#000"/>
<rect x="234.3" y="452.5" width="111.2" height="11.8" fill="#000"/>
<rect x="354" y="452.5" width="111" height="11.8" fill="#000"/>
<path d="M237 454.3h1v3.9h-1zM239.55 454.3h1v3.9h-1zM242.1 454.3h1v3.9h-1zM244.65 454.3h1v3.9h-1zM247.2 454.3h1v3.9h-1zM249.75 454.3h1v3.9h-1zM252.3 454.3h1v3.9h-1zM254.85 454.3h1v3.9h-1zM257.4 454.3h1v3.9h-1zM259.95 454.3h1v3.9h-1zM262.5 454.3h1v3.9h-1zM265.05 454.3h1v3.9h-1zM267.6 454.3h1v3.9h-1zM270.15 454.3h1v3.9h-1zM272.7 454.3h1v3.9h-1zM275.25 454.3h1v3.9h-1zM277.8 454.3h1v3.9h-1zM280.35 454.3h1v3.9h-1zM282.9 454.3h1v3.9h-1zM285.45 454.3h1v3.9h-1zM288 454.3h1v3.9h-1zM290.55 454.3h1v3.9h-1zM293.1 454.3h1v3.9h-1zM295.65 454.3h1v3.9h-1zM298.2 454.3h1v3.9h-1zM300.75 454.3h1v3.9h-1zM303.3 454.3h1v3.9h-1zM305.85 454.3h1v3.9h-1zM308.4 454.3h1v3.9h-1zM310.95 454.3h1v3.9h-1zM313.5 454.3h1v3.9h-1zM316.05 454.3h1v3.9h-1zM318.6 454.3h1v3.9h-1zM321.15 454.3h1v3.9h-1zM323.7 454.3h1v3.9h-1zM326.25 454.3h1v3.9h-1zM328.8 454.3h1v3.9h-1zM331.35 454.3h1v3.9h-1zM333.9 454.3h1v3.9h-1zM336.45 454.3h1v3.9h-1zM339 454.3h1v3.9h-1zM341.55 454.3h1v3.9h-1zM356.5 454.3h1v3.9h-1zM359.05 454.3h1v3.9h-1zM361.6 454.3h1v3.9h-1zM364.15 454.3h1v3.9h-1zM366.7 454.3h1v3.9h-1zM369.25 454.3h1v3.9h-1zM371.8 454.3h1v3.9h-1zM374.35 454.3h1v3.9h-1zM376.9 454.3h1v3.9h-1zM379.45 454.3h1v3.9h-1zM382 454.3h1v3.9h-1zM384.55 454.3h1v3.9h-1zM387.1 454.3h1v3.9h-1zM389.65 454.3h1v3.9h-1zM392.2 454.3h1v3.9h-1zM394.75 454.3h1v3.9h-1zM397.3 454.3h1v3.9h-1zM399.85 454.3h1v3.9h-1zM402.4 454.3h1v3.9h-1zM404.95 454.3h1v3.9h-1zM407.5 454.3h1v3.9h-1zM410.05 454.3h1v3.9h-1zM412.6 454.3h1v3.9h-1zM415.15 454.3h1v3.9h-1zM417.7 454.3h1v3.9h-1zM420.25 454.3h1v3.9h-1zM422.8 454.3h1v3.9h-1zM425.35 454.3h1v3.9h-1zM427.9 454.3h1v3.9h-1zM430.45 454.3h1v3.9h-1zM433 454.3h1v3.9h-1zM435.55 454.3h1v3.9h-1zM438.1 454.3h1v3.9h-1zM440.65 454.3h1v3.9h-1zM443.2 454.3h1v3.9h-1zM445.75 454.3h1v3.9h-1zM448.3 454.3h1v3.9h-1zM450.85 454.3h1v3.9h-1zM453.4 454.3h1v3.9h-1zM455.95 454.3h1v3.9h-1zM458.5 454.3h1v3.9h-1zM461.05 454.3h1v3.9h-1z" fill="#fff"/>
<rect x="477.3" y="452" width="3.7" height="13.1" fill="#000"/>
<rect x="481" y="457.8" width="8" height="1" fill="#000"/>
<rect x="467" y="453.5" width="10.3" height="1.8" fill="#000"/>
<rect x="467" y="453.5" width="1.8" height="6.4" fill="#000"/>
<rect x="467" y="458.3" width="7" height="1.6" fill="#000"/>
<rect x="472.2" y="458.3" width="1.8" height="4.8" fill="#000"/>
<rect x="472.2" y="461.5" width="5.1" height="1.6" fill="#000"/>
<rect x="211.5" y="467.8" width="277" height="14.6" fill="#fff" stroke="#000" stroke-width="1"/>
<rect x="219" y="468.8" width="3.7" height="13.1" fill="#000"/>
<rect x="211" y="474.6" width="8" height="1" fill="#000"/>
<rect x="222.7" y="470.3" width="10.3" height="1.8" fill="#000"/>
<rect x="231.4" y="470.3" width="1.8" height="6.4" fill="#000"/>
<rect x="226.2" y="475.1" width="7" height="1.6" fill="#000"/>
<rect x="226.2" y="475.1" width="1.8" height="4.8" fill="#000"/>
<rect x="222.7" y="478.3" width="5.3" height="1.6" fill="#000"/>
<rect x="234.3" y="469.3" width="111.2" height="11.8" fill="#000"/>
<rect x="354" y="469.3" width="111" height="11.8" fill="#000"/>
<path d="M237 471.1h1v3.9h-1zM239.55 471.1h1v3.9h-1zM242.1 471.1h1v3.9h-1zM244.65 471.1h1v3.9h-1zM247.2 471.1h1v3.9h-1zM249.75 471.1h1v3.9h-1zM252.3 471.1h1v3.9h-1zM254.85 471.1h1v3.9h-1zM257.4 471.1h1v3.9h-1zM259.95 471.1h1v3.9h-1zM262.5 471.1h1v3.9h-1zM265.05 471.1h1v3.9h-1zM267.6 471.1h1v3.9h-1zM270.15 471.1h1v3.9h-1zM272.7 471.1h1v3.9h-1zM275.25 471.1h1v3.9h-1zM277.8 471.1h1v3.9h-1zM280.35 471.1h1v3.9h-1zM282.9 471.1h1v3.9h-1zM285.45 471.1h1v3.9h-1zM288 471.1h1v3.9h-1zM290.55 471.1h1v3.9h-1zM293.1 471.1h1v3.9h-1zM295.65 471.1h1v3.9h-1zM298.2 471.1h1v3.9h-1zM300.75 471.1h1v3.9h-1zM303.3 471.1h1v3.9h-1zM305.85 471.1h1v3.9h-1zM308.4 471.1h1v3.9h-1zM310.95 471.1h1v3.9h-1zM313.5 471.1h1v3.9h-1zM316.05 471.1h1v3.9h-1zM318.6 471.1h1v3.9h-1zM321.15 471.1h1v3.9h-1zM323.7 471.1h1v3.9h-1zM326.25 471.1h1v3.9h-1zM328.8 471.1h1v3.9h-1zM331.35 471.1h1v3.9h-1zM333.9 471.1h1v3.9h-1zM336.45 471.1h1v3.9h-1zM339 471.1h1v3.9h-1zM341.55 471.1h1v3.9h-1zM356.5 471.1h1v3.9h-1zM359.05 471.1h1v3.9h-1zM361.6 471.1h1v3.9h-1zM364.15 471.1h1v3.9h-1zM366.7 471.1h1v3.9h-1zM369.25 471.1h1v3.9h-1zM371.8 471.1h1v3.9h-1zM374.35 471.1h1v3.9h-1zM376.9 471.1h1v3.9h-1zM379.45 471.1h1v3.9h-1zM382 471.1h1v3.9h-1zM384.55 471.1h1v3.9h-1zM387.1 471.1h1v3.9h-1zM389.65 471.1h1v3.9h-1zM392.2 471.1h1v3.9h-1zM394.75 471.1h1v3.9h-1zM397.3 471.1h1v3.9h-1zM399.85 471.1h1v3.9h-1zM402.4 471.1h1v3.9h-1zM404.95 471.1h1v3.9h-1zM407.5 471.1h1v3.9h-1zM410.05 471.1h1v3.9h-1zM412.6 471.1h1v3.9h-1zM415.15 471.1h1v3.9h-1zM417.7 471.1h1v3.9h-1zM420.25 471.1h1v3.9h-1zM422.8 471.1h1v3.9h-1zM425.35 471.1h1v3.9h-1zM427.9 471.1h1v3.9h-1zM430.45 471.1h1v3.9h-1zM433 471.1h1v3.9h-1zM435.55 471.1h1v3.9h-1zM438.1 471.1h1v3.9h-1zM440.65 471.1h1v3.9h-1zM443.2 471.1h1v3.9h-1zM445.75 471.1h1v3.9h-1zM448.3 471.1h1v3.9h-1zM450.85 471.1h1v3.9h-1zM453.4 471.1h1v3.9h-1zM455.95 471.1h1v3.9h-1zM458.5 471.1h1v3.9h-1zM461.05 471.1h1v3.9h-1z" fill="#fff"/>
<rect x="477.3" y="468.8" width="3.7" height="13.1" fill="#000"/>
<rect x="481" y="474.6" width="8" height="1" fill="#000"/>
<rect x="467" y="470.3" width="10.3" height="1.8" fill="#000"/>
<rect x="467" y="470.3" width="1.8" height="6.4" fill="#000"/>
<rect x="467" y="475.1" width="7" height="1.6" fill="#000"/>
<rect x="472.2" y="475.1" width="1.8" height="4.8" fill="#000"/>
<rect x="472.2" y="478.3" width="5.1" height="1.6" fill="#000"/>
<rect x="211.5" y="484.6" width="277" height="14.6" fill="#fff" stroke="#000" stroke-width="1"/>
<rect x="219" y="485.6" width="3.7" height="13.1" fill="#000"/>
<rect x="211" y="491.4" width="8" height="1" fill="#000"/>
<rect x="222.7" y="487.1" width="10.3" height="1.8" fill="#000"/>
<rect x="231.4" y="487.1" width="1.8" height="6.4" fill="#000"/>
<rect x="226.2" y="491.9" width="7" height="1.6" fill="#000"/>
<rect x="226.2" y="491.9" width="1.8" height="4.8" fill="#000"/>
<rect x="222.7" y="495.1" width="5.3" height="1.6" fill="#000"/>
<rect x="234.3" y="486.1" width="111.2" height="11.8" fill="#000"/>
<rect x="354" y="486.1" width="111" height="11.8" fill="#000"/>
<path d="M237 487.9h1v3.9h-1zM239.55 487.9h1v3.9h-1zM242.1 487.9h1v3.9h-1zM244.65 487.9h1v3.9h-1zM247.2 487.9h1v3.9h-1zM249.75 487.9h1v3.9h-1zM252.3 487.9h1v3.9h-1zM254.85 487.9h1v3.9h-1zM257.4 487.9h1v3.9h-1zM259.95 487.9h1v3.9h-1zM262.5 487.9h1v3.9h-1zM265.05 487.9h1v3.9h-1zM267.6 487.9h1v3.9h-1zM270.15 487.9h1v3.9h-1zM272.7 487.9h1v3.9h-1zM275.25 487.9h1v3.9h-1zM277.8 487.9h1v3.9h-1zM280.35 487.9h1v3.9h-1zM282.9 487.9h1v3.9h-1zM285.45 487.9h1v3.9h-1zM288 487.9h1v3.9h-1zM290.55 487.9h1v3.9h-1zM293.1 487.9h1v3.9h-1zM295.65 487.9h1v3.9h-1zM298.2 487.9h1v3.9h-1zM300.75 487.9h1v3.9h-1zM303.3 487.9h1v3.9h-1zM305.85 487.9h1v3.9h-1zM308.4 487.9h1v3.9h-1zM310.95 487.9h1v3.9h-1zM313.5 487.9h1v3.9h-1zM316.05 487.9h1v3.9h-1zM318.6 487.9h1v3.9h-1zM321.15 487.9h1v3.9h-1zM323.7 487.9h1v3.9h-1zM326.25 487.9h1v3.9h-1zM328.8 487.9h1v3.9h-1zM331.35 487.9h1v3.9h-1zM333.9 487.9h1v3.9h-1zM336.45 487.9h1v3.9h-1zM339 487.9h1v3.9h-1zM341.55 487.9h1v3.9h-1zM356.5 487.9h1v3.9h-1zM359.05 487.9h1v3.9h-1zM361.6 487.9h1v3.9h-1zM364.15 487.9h1v3.9h-1zM366.7 487.9h1v3.9h-1zM369.25 487.9h1v3.9h-1zM371.8 487.9h1v3.9h-1zM374.35 487.9h1v3.9h-1zM376.9 487.9h1v3.9h-1zM379.45 487.9h1v3.9h-1zM382 487.9h1v3.9h-1zM384.55 487.9h1v3.9h-1zM387.1 487.9h1v3.9h-1zM389.65 487.9h1v3.9h-1zM392.2 487.9h1v3.9h-1zM394.75 487.9h1v3.9h-1zM397.3 487.9h1v3.9h-1zM399.85 487.9h1v3.9h-1zM402.4 487.9h1v3.9h-1zM404.95 487.9h1v3.9h-1zM407.5 487.9h1v3.9h-1zM410.05 487.9h1v3.9h-1zM412.6 487.9h1v3.9h-1zM415.15 487.9h1v3.9h-1zM417.7 487.9h1v3.9h-1zM420.25 487.9h1v3.9h-1zM422.8 487.9h1v3.9h-1zM425.35 487.9h1v3.9h-1zM427.9 487.9h1v3.9h-1zM430.45 487.9h1v3.9h-1zM433 487.9h1v3.9h-1zM435.55 487.9h1v3.9h-1zM438.1 487.9h1v3.9h-1zM440.65 487.9h1v3.9h-1zM443.2 487.9h1v3.9h-1zM445.75 487.9h1v3.9h-1zM448.3 487.9h1v3.9h-1zM450.85 487.9h1v3.9h-1zM453.4 487.9h1v3.9h-1zM455.95 487.9h1v3.9h-1zM458.5 487.9h1v3.9h-1zM461.05 487.9h1v3.9h-1z" fill="#fff"/>
<rect x="477.3" y="485.6" width="3.7" height="13.1" fill="#000"/>
<rect x="481" y="491.4" width="8" height="1" fill="#000"/>
<rect x="467" y="487.1" width="10.3" height="1.8" fill="#000"/>
<rect x="467" y="487.1" width="1.8" height="6.4" fill="#000"/>
<rect x="467" y="491.9" width="7" height="1.6" fill="#000"/>
<rect x="472.2" y="491.9" width="1.8" height="4.8" fill="#000"/>
<rect x="472.2" y="495.1" width="5.1" height="1.6" fill="#000"/>
<rect x="500" y="386" width="12" height="118.5" fill="#000"/>
<rect x="501" y="391.23" width="10" height="1.4" fill="#fff"/>
<rect x="501" y="397.15" width="10" height="1.4" fill="#fff"/>
<rect x="501" y="403.07" width="10" height="1.4" fill="#fff"/>
<rect x="501" y="409" width="10" height="1.4" fill="#fff"/>
<rect x="501" y="414.93" width="10" height="1.4" fill="#fff"/>
<rect x="501" y="420.85" width="10" height="1.4" fill="#fff"/>
<rect x="501" y="426.78" width="10" height="1.4" fill="#fff"/>
<rect x="501" y="432.7" width="10" height="1.4" fill="#fff"/>
<rect x="501" y="438.62" width="10" height="1.4" fill="#fff"/>
<rect x="501" y="444.55" width="10" height="1.4" fill="#fff"/>
<rect x="501" y="450.48" width="10" height="1.4" fill="#fff"/>
<rect x="501" y="456.4" width="10" height="1.4" fill="#fff"/>
<rect x="501" y="462.32" width="10" height="1.4" fill="#fff"/>
<rect x="501" y="468.25" width="10" height="1.4" fill="#fff"/>
<rect x="501" y="474.18" width="10" height="1.4" fill="#fff"/>
<rect x="501" y="480.1" width="10" height="1.4" fill="#fff"/>
<rect x="501" y="486.03" width="10" height="1.4" fill="#fff"/>
<rect x="501" y="491.95" width="10" height="1.4" fill="#fff"/>
<rect x="501" y="497.88" width="10" height="1.4" fill="#fff"/>
<rect x="505.4" y="387" width="1.2" height="116.5" fill="#fff"/>
<rect x="502" y="388" width="2" height="2" fill="#fff"/>
<rect x="521" y="386" width="12.5" height="118.5" fill="#000"/>
<rect x="522" y="391.23" width="10.5" height="1.4" fill="#fff"/>
<rect x="522" y="397.15" width="10.5" height="1.4" fill="#fff"/>
<rect x="522" y="403.07" width="10.5" height="1.4" fill="#fff"/>
<rect x="522" y="409" width="10.5" height="1.4" fill="#fff"/>
<rect x="522" y="414.93" width="10.5" height="1.4" fill="#fff"/>
<rect x="522" y="420.85" width="10.5" height="1.4" fill="#fff"/>
<rect x="522" y="426.78" width="10.5" height="1.4" fill="#fff"/>
<rect x="522" y="432.7" width="10.5" height="1.4" fill="#fff"/>
<rect x="522" y="438.62" width="10.5" height="1.4" fill="#fff"/>
<rect x="522" y="444.55" width="10.5" height="1.4" fill="#fff"/>
<rect x="522" y="450.48" width="10.5" height="1.4" fill="#fff"/>
<rect x="522" y="456.4" width="10.5" height="1.4" fill="#fff"/>
<rect x="522" y="462.32" width="10.5" height="1.4" fill="#fff"/>
<rect x="522" y="468.25" width="10.5" height="1.4" fill="#fff"/>
<rect x="522" y="474.18" width="10.5" height="1.4" fill="#fff"/>
<rect x="522" y="480.1" width="10.5" height="1.4" fill="#fff"/>
<rect x="522" y="486.03" width="10.5" height="1.4" fill="#fff"/>
<rect x="522" y="491.95" width="10.5" height="1.4" fill="#fff"/>
<rect x="522" y="497.88" width="10.5" height="1.4" fill="#fff"/>
<rect x="526.65" y="387" width="1.2" height="116.5" fill="#fff"/>
<rect x="523" y="388" width="2" height="2" fill="#fff"/>
<rect x="522" y="387" width="0.8" height="116.5" fill="#fff"/>
<rect x="542.3" y="386" width="11.7" height="100.5" fill="#000"/>
<rect x="543.3" y="391.31" width="9.7" height="1.2" fill="#fff"/>
<rect x="543.3" y="397.22" width="9.7" height="1.2" fill="#fff"/>
<rect x="543.3" y="403.14" width="9.7" height="1.2" fill="#fff"/>
<rect x="543.3" y="409.05" width="9.7" height="1.2" fill="#fff"/>
<rect x="543.3" y="414.96" width="9.7" height="1.2" fill="#fff"/>
<rect x="543.3" y="420.87" width="9.7" height="1.2" fill="#fff"/>
<rect x="543.3" y="426.78" width="9.7" height="1.2" fill="#fff"/>
<rect x="543.3" y="432.69" width="9.7" height="1.2" fill="#fff"/>
<rect x="543.3" y="438.61" width="9.7" height="1.2" fill="#fff"/>
<rect x="543.3" y="444.52" width="9.7" height="1.2" fill="#fff"/>
<rect x="543.3" y="450.43" width="9.7" height="1.2" fill="#fff"/>
<rect x="543.3" y="456.34" width="9.7" height="1.2" fill="#fff"/>
<rect x="543.3" y="462.25" width="9.7" height="1.2" fill="#fff"/>
<rect x="543.3" y="468.16" width="9.7" height="1.2" fill="#fff"/>
<rect x="543.3" y="474.08" width="9.7" height="1.2" fill="#fff"/>
<rect x="543.3" y="479.99" width="9.7" height="1.2" fill="#fff"/>
<rect x="547.45" y="387" width="1.4" height="98.5" fill="#fff"/>
<rect x="544" y="388" width="2" height="2" fill="#fff"/>
<rect x="681" y="381" width="13.2" height="77.5" fill="#000"/>
<rect x="682" y="386.41" width="11.2" height="1.1" fill="#fff"/>
<rect x="682" y="392.37" width="11.2" height="1.1" fill="#fff"/>
<rect x="682" y="398.33" width="11.2" height="1.1" fill="#fff"/>
<rect x="682" y="404.3" width="11.2" height="1.1" fill="#fff"/>
<rect x="682" y="410.26" width="11.2" height="1.1" fill="#fff"/>
<rect x="682" y="416.22" width="11.2" height="1.1" fill="#fff"/>
<rect x="682" y="422.18" width="11.2" height="1.1" fill="#fff"/>
<rect x="682" y="428.14" width="11.2" height="1.1" fill="#fff"/>
<rect x="682" y="434.1" width="11.2" height="1.1" fill="#fff"/>
<rect x="682" y="440.07" width="11.2" height="1.1" fill="#fff"/>
<rect x="682" y="446.03" width="11.2" height="1.1" fill="#fff"/>
<rect x="682" y="451.99" width="11.2" height="1.1" fill="#fff"/>
<rect x="686.65" y="382" width="1" height="75.5" fill="#fff"/>
<rect x="692.3" y="382" width="0.9" height="75.5" fill="#fff"/>
<rect x="683" y="383" width="2" height="2" fill="#fff"/>
<rect x="121" y="453" width="13" height="71.5" fill="#000"/>
<rect x="122" y="458.11" width="11" height="1.7" fill="#fff"/>
<rect x="122" y="464.07" width="11" height="1.7" fill="#fff"/>
<rect x="122" y="470.02" width="11" height="1.7" fill="#fff"/>
<rect x="122" y="475.98" width="11" height="1.7" fill="#fff"/>
<rect x="122" y="481.94" width="11" height="1.7" fill="#fff"/>
<rect x="122" y="487.9" width="11" height="1.7" fill="#fff"/>
<rect x="122" y="493.86" width="11" height="1.7" fill="#fff"/>
<rect x="122" y="499.82" width="11" height="1.7" fill="#fff"/>
<rect x="122" y="505.77" width="11" height="1.7" fill="#fff"/>
<rect x="122" y="511.73" width="11" height="1.7" fill="#fff"/>
<rect x="122" y="517.69" width="11" height="1.7" fill="#fff"/>
<rect x="125.95" y="454" width="2.3" height="69.5" fill="#fff"/>
<rect x="132.2" y="454" width="0.8" height="69.5" fill="#fff"/>
<rect x="123" y="455" width="2" height="2" fill="#fff"/>
<rect x="188" y="453" width="12.8" height="71.5" fill="#000"/>
<rect x="189" y="458.11" width="10.8" height="1.7" fill="#fff"/>
<rect x="189" y="464.07" width="10.8" height="1.7" fill="#fff"/>
<rect x="189" y="470.02" width="10.8" height="1.7" fill="#fff"/>
<rect x="189" y="475.98" width="10.8" height="1.7" fill="#fff"/>
<rect x="189" y="481.94" width="10.8" height="1.7" fill="#fff"/>
<rect x="189" y="487.9" width="10.8" height="1.7" fill="#fff"/>
<rect x="189" y="493.86" width="10.8" height="1.7" fill="#fff"/>
<rect x="189" y="499.82" width="10.8" height="1.7" fill="#fff"/>
<rect x="189" y="505.77" width="10.8" height="1.7" fill="#fff"/>
<rect x="189" y="511.73" width="10.8" height="1.7" fill="#fff"/>
<rect x="189" y="517.69" width="10.8" height="1.7" fill="#fff"/>
<rect x="192.85" y="454" width="2.3" height="69.5" fill="#fff"/>
<rect x="199" y="454" width="0.8" height="69.5" fill="#fff"/>
<rect x="190" y="455" width="2" height="2" fill="#fff"/>
<rect x="71" y="29.5" width="26.2" height="6.5" fill="#000"/>
<rect x="72" y="30.5" width="1.3" height="4.5" fill="#fff"/>
<rect x="76.58" y="30.5" width="1.3" height="4.5" fill="#fff"/>
<rect x="81.16" y="30.5" width="1.3" height="4.5" fill="#fff"/>
<rect x="85.74" y="30.5" width="1.3" height="4.5" fill="#fff"/>
<rect x="90.32" y="30.5" width="1.3" height="4.5" fill="#fff"/>
<rect x="94.9" y="30.5" width="1.3" height="4.5" fill="#fff"/>
<rect x="93" y="31" width="2" height="3" fill="#fff"/>
<rect x="101" y="29" width="37.2" height="13" fill="#000"/>
<rect x="102" y="30" width="1.2" height="11" fill="#fff"/>
<rect x="107.67" y="30" width="1.2" height="11" fill="#fff"/>
<rect x="113.33" y="30" width="1.2" height="11" fill="#fff"/>
<rect x="119" y="30" width="1.2" height="11" fill="#fff"/>
<rect x="124.67" y="30" width="1.2" height="11" fill="#fff"/>
<rect x="130.33" y="30" width="1.2" height="11" fill="#fff"/>
<rect x="136" y="30" width="1.2" height="11" fill="#fff"/>
<rect x="102" y="34.95" width="35.2" height="1.1" fill="#fff"/>
<rect x="132" y="31" width="3" height="3" fill="#fff"/>
<rect x="141.2" y="29.5" width="30.2" height="6.5" fill="#000"/>
<rect x="142.2" y="30.5" width="1.3" height="4.5" fill="#fff"/>
<rect x="147.58" y="30.5" width="1.3" height="4.5" fill="#fff"/>
<rect x="152.96" y="30.5" width="1.3" height="4.5" fill="#fff"/>
<rect x="158.34" y="30.5" width="1.3" height="4.5" fill="#fff"/>
<rect x="163.72" y="30.5" width="1.3" height="4.5" fill="#fff"/>
<rect x="169.1" y="30.5" width="1.3" height="4.5" fill="#fff"/>
<rect x="166" y="31" width="2" height="3" fill="#fff"/>
<rect x="175" y="29.5" width="25.8" height="6.5" fill="#000"/>
<rect x="176" y="30.5" width="1.3" height="4.5" fill="#fff"/>
<rect x="180.5" y="30.5" width="1.3" height="4.5" fill="#fff"/>
<rect x="185" y="30.5" width="1.3" height="4.5" fill="#fff"/>
<rect x="189.5" y="30.5" width="1.3" height="4.5" fill="#fff"/>
<rect x="194" y="30.5" width="1.3" height="4.5" fill="#fff"/>
<rect x="198.5" y="30.5" width="1.3" height="4.5" fill="#fff"/>
<rect x="196" y="31" width="2" height="3" fill="#fff"/>
<rect x="80.1" y="61.1" width="18.8" height="6.6" fill="#000"/>
<rect x="85.8" y="62" width="1.2" height="4.9" fill="#fff"/>
<rect x="91.9" y="62" width="1.2" height="4.9" fill="#fff"/>
<rect x="94" y="62.9" width="3.2" height="3.1" fill="#fff"/>
<rect x="114.3" y="61.2" width="24.5" height="13.2" fill="#000"/>
<rect x="115.3" y="62.2" width="1.2" height="11.2" fill="#fff"/>
<rect x="120.62" y="62.2" width="1.2" height="11.2" fill="#fff"/>
<rect x="125.95" y="62.2" width="1.2" height="11.2" fill="#fff"/>
<rect x="131.28" y="62.2" width="1.2" height="11.2" fill="#fff"/>
<rect x="136.6" y="62.2" width="1.2" height="11.2" fill="#fff"/>
<rect x="115.3" y="67.25" width="22.5" height="1.1" fill="#fff"/>
<rect x="133" y="63" width="2" height="3" fill="#fff"/>
<rect x="153.4" y="61.2" width="6.4" height="18.6" fill="#000"/>
<rect x="154.4" y="66.9" width="4.4" height="1" fill="#fff"/>
<rect x="154.4" y="73.1" width="4.4" height="1" fill="#fff"/>
<rect x="155" y="63" width="3" height="3" fill="#fff"/>
<rect x="205.5" y="49" width="152.5" height="11.3" fill="#000"/>
<rect x="206.5" y="50" width="1.3" height="9.3" fill="#fff"/>
<rect x="212.47" y="50" width="1.3" height="9.3" fill="#fff"/>
<rect x="218.44" y="50" width="1.3" height="9.3" fill="#fff"/>
<rect x="224.4" y="50" width="1.3" height="9.3" fill="#fff"/>
<rect x="230.37" y="50" width="1.3" height="9.3" fill="#fff"/>
<rect x="236.34" y="50" width="1.3" height="9.3" fill="#fff"/>
<rect x="242.31" y="50" width="1.3" height="9.3" fill="#fff"/>
<rect x="248.28" y="50" width="1.3" height="9.3" fill="#fff"/>
<rect x="254.24" y="50" width="1.3" height="9.3" fill="#fff"/>
<rect x="260.21" y="50" width="1.3" height="9.3" fill="#fff"/>
<rect x="266.18" y="50" width="1.3" height="9.3" fill="#fff"/>
<rect x="272.15" y="50" width="1.3" height="9.3" fill="#fff"/>
<rect x="278.12" y="50" width="1.3" height="9.3" fill="#fff"/>
<rect x="284.08" y="50" width="1.3" height="9.3" fill="#fff"/>
<rect x="290.05" y="50" width="1.3" height="9.3" fill="#fff"/>
<rect x="296.02" y="50" width="1.3" height="9.3" fill="#fff"/>
<rect x="301.99" y="50" width="1.3" height="9.3" fill="#fff"/>
<rect x="307.96" y="50" width="1.3" height="9.3" fill="#fff"/>
<rect x="313.92" y="50" width="1.3" height="9.3" fill="#fff"/>
<rect x="319.89" y="50" width="1.3" height="9.3" fill="#fff"/>
<rect x="325.86" y="50" width="1.3" height="9.3" fill="#fff"/>
<rect x="331.83" y="50" width="1.3" height="9.3" fill="#fff"/>
<rect x="337.8" y="50" width="1.3" height="9.3" fill="#fff"/>
<rect x="343.76" y="50" width="1.3" height="9.3" fill="#fff"/>
<rect x="349.73" y="50" width="1.3" height="9.3" fill="#fff"/>
<rect x="355.7" y="50" width="1.3" height="9.3" fill="#fff"/>
<rect x="206.5" y="54.15" width="150.5" height="1" fill="#fff"/>
<rect x="217.4" y="69.7" width="17.8" height="6.4" fill="#fff" stroke="#000" stroke-width="1"/>
<rect x="217.9" y="71.2" width="4.7" height="3.5" fill="#000"/>
<rect x="223.9" y="71.2" width="4.6" height="3.5" fill="#000"/>
<rect x="230.2" y="71.2" width="3.9" height="3.5" fill="#000"/>
<rect x="231.2" y="72.2" width="1.9" height="1.5" fill="#fff"/>
<rect x="244.1" y="95.9" width="18.8" height="6.8" fill="#000"/>
<rect x="249.7" y="96.8" width="1.3" height="5.1" fill="#fff"/>
<rect x="255.7" y="96.8" width="1.3" height="5.1" fill="#fff"/>
<rect x="258.2" y="98" width="3" height="3" fill="#fff"/>
<rect x="301" y="199" width="25.2" height="13" fill="#000"/>
<rect x="302" y="200" width="1.2" height="11" fill="#fff"/>
<rect x="307.5" y="200" width="1.2" height="11" fill="#fff"/>
<rect x="313" y="200" width="1.2" height="11" fill="#fff"/>
<rect x="318.5" y="200" width="1.2" height="11" fill="#fff"/>
<rect x="324" y="200" width="1.2" height="11" fill="#fff"/>
<rect x="302" y="204.95" width="23.2" height="1.1" fill="#fff"/>
<rect x="321" y="201" width="2" height="3" fill="#fff"/>
<rect x="461.5" y="140.5" width="7.2" height="15" fill="#fff" stroke="#000" stroke-width="1"/>
<rect x="463" y="142" width="4.2" height="5.2" fill="#000"/>
<rect x="463" y="148.8" width="4.2" height="5.2" fill="#000"/>
<rect x="56.5" y="339.5" width="19" height="7" fill="#fff" stroke="#000" stroke-width="1"/>
<rect x="58.1" y="340" width="3.9" height="4.8" fill="#000"/>
<rect x="63.9" y="340" width="4.1" height="4.8" fill="#000"/>
<rect x="69.9" y="340" width="4.2" height="4.8" fill="#000"/>
<rect x="79.6" y="339.5" width="17.9" height="7" fill="#fff" stroke="#000" stroke-width="1"/>
<rect x="79.1" y="340" width="5.8" height="4.8" fill="#000"/>
<rect x="86.7" y="340" width="3.8" height="4.8" fill="#000"/>
<rect x="92.1" y="340" width="4.2" height="4.8" fill="#000"/>
<rect x="56.5" y="359.6" width="18" height="6.8" fill="#fff" stroke="#000" stroke-width="1"/>
<rect x="57.1" y="360.9" width="4.9" height="4" fill="#000"/>
<rect x="63.5" y="360.9" width="3.4" height="4" fill="#000"/>
<rect x="69.1" y="360.9" width="4.1" height="4" fill="#000"/>
<rect x="90" y="354.2" width="15.8" height="6.7" fill="#000"/>
<rect x="90.9" y="355.1" width="1.1" height="5" fill="#fff"/>
<rect x="96.9" y="355.1" width="2.2" height="5" fill="#fff"/>
<rect x="102.9" y="355.1" width="2.2" height="5" fill="#fff"/>
<rect x="64.3" y="457" width="12.7" height="42" fill="#000"/>
<rect x="65.3" y="462.5" width="10.7" height="1" fill="#fff"/>
<rect x="65.3" y="468.5" width="10.7" height="1" fill="#fff"/>
<rect x="65.3" y="474.5" width="10.7" height="1" fill="#fff"/>
<rect x="65.3" y="480.5" width="10.7" height="1" fill="#fff"/>
<rect x="65.3" y="486.5" width="10.7" height="1" fill="#fff"/>
<rect x="65.3" y="492.5" width="10.7" height="1" fill="#fff"/>
<rect x="70.15" y="458" width="1" height="40" fill="#fff"/>
<rect x="72" y="494" width="3" height="3" fill="#fff"/>
<rect x="82.1" y="500.8" width="18.4" height="6.1" fill="#fff" stroke="#000" stroke-width="1"/>
<rect x="83.4" y="502.5" width="4" height="3.3" fill="#000"/>
<rect x="89.2" y="502.5" width="3.8" height="3.3" fill="#000"/>
<rect x="95.2" y="502.5" width="3.8" height="3.3" fill="#000"/>
<rect x="93" y="514.8" width="17.6" height="6.2" fill="#fff" stroke="#000" stroke-width="1"/>
<rect x="94.5" y="516" width="3.7" height="3.8" fill="#000"/>
<rect x="99.8" y="516" width="4.5" height="3.8" fill="#000"/>
<rect x="105.8" y="516" width="3.8" height="3.8" fill="#000"/>
<rect x="713" y="393" width="7.2" height="18.6" fill="#000"/>
<rect x="714" y="398.4" width="5.2" height="1.6" fill="#fff"/>
<rect x="714" y="404.6" width="5.2" height="1.6" fill="#fff"/>
<rect x="715" y="407" width="3" height="2" fill="#fff"/>
<rect x="713" y="415.2" width="7.2" height="18.6" fill="#000"/>
<rect x="714" y="420.6" width="5.2" height="1.6" fill="#fff"/>
<rect x="714" y="426.8" width="5.2" height="1.6" fill="#fff"/>
<rect x="715" y="429" width="3" height="3" fill="#fff"/>
<rect x="750.8" y="366.5" width="11.7" height="23.8" fill="#fff" stroke="#000" stroke-width="1"/>
<rect x="752.3" y="368" width="4" height="4" fill="#000"/>
<rect x="758.3" y="368" width="4.7" height="4" fill="#000"/>
<rect x="752.3" y="373.5" width="4" height="4.5" fill="#000"/>
<rect x="758.3" y="373.5" width="4.7" height="4.5" fill="#000"/>
<rect x="752.3" y="379.5" width="4" height="4.5" fill="#000"/>
<rect x="758.3" y="379.5" width="4.7" height="4.5" fill="#000"/>
<rect x="752.3" y="385.4" width="4" height="4" fill="#000"/>
<rect x="758.3" y="385.4" width="4.7" height="4" fill="#000"/>
<rect x="753.3" y="369" width="2" height="2.2" fill="#fff"/>
<rect x="672.5" y="470.5" width="31.2" height="13" fill="#fff" stroke="#000" stroke-width="1"/>
<rect x="674.1" y="471.9" width="3.9" height="3.8" fill="#000"/>
<rect x="674.1" y="478" width="3.9" height="3.9" fill="#000"/>
<rect x="680" y="471.9" width="3.9" height="3.8" fill="#000"/>
<rect x="680" y="478" width="3.9" height="3.9" fill="#000"/>
<rect x="685.9" y="471.9" width="3.9" height="3.8" fill="#000"/>
<rect x="685.9" y="478" width="3.9" height="3.9" fill="#000"/>
<rect x="692" y="471.9" width="3.9" height="3.8" fill="#000"/>
<rect x="692" y="478" width="3.9" height="3.9" fill="#000"/>
<rect x="697.2" y="471.9" width="5.2" height="3.8" fill="#000"/>
<rect x="697.2" y="478" width="5.2" height="3.9" fill="#000"/>
<rect x="675.1" y="479" width="1.9" height="1.9" fill="#fff"/>
<rect x="672.5" y="488.3" width="31.2" height="12.4" fill="#fff" stroke="#000" stroke-width="1"/>
<rect x="674.1" y="488" width="3.9" height="4.4" fill="#000"/>
<rect x="674.1" y="495.1" width="3.9" height="3.9" fill="#000"/>
<rect x="680" y="488" width="3.9" height="4.4" fill="#000"/>
<rect x="680" y="495.1" width="3.9" height="3.9" fill="#000"/>
<rect x="685.9" y="488" width="3.9" height="4.4" fill="#000"/>
<rect x="685.9" y="495.1" width="3.9" height="3.9" fill="#000"/>
<rect x="692" y="488" width="3.9" height="4.4" fill="#000"/>
<rect x="692" y="495.1" width="3.9" height="3.9" fill="#000"/>
<rect x="697.2" y="488" width="5.2" height="4.4" fill="#000"/>
<rect x="697.2" y="495.1" width="5.2" height="3.9" fill="#000"/>
<rect x="675.1" y="496.1" width="1.9" height="1.9" fill="#fff"/>
<rect x="538.6" y="494.4" width="112.1" height="22.7" fill="#fff" stroke="#000" stroke-width="1"/>
<rect x="539" y="501" width="111.3" height="1" fill="#000"/>
<rect x="540" y="498.2" width="6.8" height="2" fill="#000"/>
<rect x="541.5" y="497" width="3.8" height="4.2" fill="#000"/>
<rect x="540" y="504" width="6.8" height="2.8" fill="#000"/>
<rect x="549.3" y="498.2" width="6.8" height="2" fill="#000"/>
<rect x="550.8" y="497" width="3.8" height="4.2" fill="#000"/>
<rect x="549.3" y="504" width="6.8" height="2.8" fill="#000"/>
<rect x="558.6" y="498.2" width="6.8" height="2" fill="#000"/>
<rect x="560.1" y="497" width="3.8" height="4.2" fill="#000"/>
<rect x="558.6" y="504" width="6.8" height="2.8" fill="#000"/>
<rect x="567.9" y="498.2" width="6.8" height="2" fill="#000"/>
<rect x="569.4" y="497" width="3.8" height="4.2" fill="#000"/>
<rect x="567.9" y="504" width="6.8" height="2.8" fill="#000"/>
<rect x="577.2" y="498.2" width="6.8" height="2" fill="#000"/>
<rect x="578.7" y="497" width="3.8" height="4.2" fill="#000"/>
<rect x="577.2" y="504" width="6.8" height="2.8" fill="#000"/>
<rect x="586.5" y="498.2" width="6.8" height="2" fill="#000"/>
<rect x="588" y="497" width="3.8" height="4.2" fill="#000"/>
<rect x="586.5" y="504" width="6.8" height="2.8" fill="#000"/>
<rect x="595.8" y="498.2" width="6.8" height="2" fill="#000"/>
<rect x="597.3" y="497" width="3.8" height="4.2" fill="#000"/>
<rect x="595.8" y="504" width="6.8" height="2.8" fill="#000"/>
<rect x="605.1" y="498.2" width="6.8" height="2" fill="#000"/>
<rect x="606.6" y="497" width="3.8" height="4.2" fill="#000"/>
<rect x="605.1" y="504" width="6.8" height="2.8" fill="#000"/>
<rect x="614.4" y="498.2" width="6.8" height="2" fill="#000"/>
<rect x="615.9" y="497" width="3.8" height="4.2" fill="#000"/>
<rect x="614.4" y="504" width="6.8" height="2.8" fill="#000"/>
<rect x="623.7" y="498.2" width="6.8" height="2" fill="#000"/>
<rect x="625.2" y="497" width="3.8" height="4.2" fill="#000"/>
<rect x="623.7" y="504" width="6.8" height="2.8" fill="#000"/>
<rect x="633" y="498.2" width="6.8" height="2" fill="#000"/>
<rect x="634.5" y="497" width="3.8" height="4.2" fill="#000"/>
<rect x="633" y="504" width="6.8" height="2.8" fill="#000"/>
<rect x="642.3" y="498.2" width="6.8" height="2" fill="#000"/>
<rect x="643.8" y="497" width="3.8" height="4.2" fill="#000"/>
<rect x="642.3" y="504" width="6.8" height="2.8" fill="#000"/>
<rect x="544.7" y="508.8" width="5.2" height="5.3" fill="#fff" stroke="#000" stroke-width="1.2"/>
<rect x="554.1" y="508.8" width="5.2" height="5.3" fill="#fff" stroke="#000" stroke-width="1.2"/>
<rect x="563.5" y="508.8" width="5.2" height="5.3" fill="#fff" stroke="#000" stroke-width="1.2"/>
<rect x="572.9" y="508.8" width="5.2" height="5.3" fill="#fff" stroke="#000" stroke-width="1.2"/>
<rect x="582.3" y="508.8" width="5.2" height="5.3" fill="#fff" stroke="#000" stroke-width="1.2"/>
<rect x="591.7" y="508.8" width="5.2" height="5.3" fill="#fff" stroke="#000" stroke-width="1.2"/>
<rect x="601.1" y="508.8" width="5.2" height="5.3" fill="#fff" stroke="#000" stroke-width="1.2"/>
<rect x="610.5" y="508.8" width="5.2" height="5.3" fill="#fff" stroke="#000" stroke-width="1.2"/>
<rect x="619.9" y="508.8" width="5.2" height="5.3" fill="#fff" stroke="#000" stroke-width="1.2"/>
<rect x="629.3" y="508.8" width="5.2" height="5.3" fill="#fff" stroke="#000" stroke-width="1.2"/>
<rect x="638.7" y="508.8" width="5.2" height="5.3" fill="#fff" stroke="#000" stroke-width="1.2"/>
<rect x="538.1" y="509.7" width="3.2" height="4.3" fill="#000"/>
<rect x="539.1" y="511" width="2.2" height="1.8" fill="#fff"/>
<rect x="648" y="509.7" width="3.2" height="4.3" fill="#000"/>
<rect x="648" y="511" width="2.2" height="1.8" fill="#fff"/>
<rect x="752.5" y="399.7" width="39" height="38.7" fill="#fff" stroke="#000" stroke-width="1"/>
<rect x="785.5" y="399.2" width="6.5" height="39.7" fill="#000"/>
<rect x="760.2" y="452" width="31.8" height="36.5" fill="#000"/>
<rect x="758.8" y="458" width="1.8" height="26" fill="#000"/>
<rect x="781.5" y="449.6" width="10.5" height="2.4" fill="#000"/>
<rect x="784" y="447" width="8" height="3" fill="#000"/>
<rect x="786.5" y="444.5" width="5.5" height="2.5" fill="#000"/>
<rect x="781.5" y="488.5" width="10.5" height="2.5" fill="#000"/>
<rect x="784" y="491" width="8" height="2.6" fill="#000"/>
<rect x="786.5" y="493.6" width="5.5" height="2.7" fill="#000"/>
<rect x="754.7" y="460.8" width="4" height="6.2" fill="#fff" stroke="#000" stroke-width="1"/>
<rect x="754.7" y="473.2" width="4" height="6.1" fill="#fff" stroke="#000" stroke-width="1"/>
<rect x="759.2" y="468.4" width="2" height="3.2" fill="#fff"/>
</g>
<g shape-rendering="crispEdges">
<rect x="273.5" y="96.8" width="93.2" height="17.5" fill="#fff" stroke="#000" stroke-width="1"/>
</g>
<path d="M283 99.6 H359.6 L363.6 111.2 H278.6 Z" fill="#fff" stroke="#000" stroke-width="1"/>
<rect x="283.3" y="103" width="74.8" height="6" rx="3" ry="3" fill="#000"/>
<path d="M272.6 98.8 Q264.5 105.2 272.6 111.8" fill="none" stroke="#000" stroke-width="1"/>
<path d="M273 103.5 H277.5 M273 106.5 H277" fill="none" stroke="#000" stroke-width="1"/>
<path d="M367.5 103.5 H364 M367.5 106.5 H364.5" fill="none" stroke="#000" stroke-width="1"/>
<path d="M367.2 104 L370.5 98.8 L374.8 105.2 L370.5 111.8 L367.2 106.5" fill="#fff" stroke="#000" stroke-width="1"/>
<text transform="translate(0,65.2) scale(0.85,1)" font-size="12" x="705.41 715.48 725.55 735.61 745.68" y="0">35974</text>
<text transform="translate(0,85.7) scale(0.85,1)" font-size="12" x="153.84" y="0">5</text>
<text transform="translate(0,222.8) scale(0.85,1)" font-size="12" x="380.9" y="0">5</text>
<line x1="93.5" y1="19" x2="103.5" y2="29.5" stroke="#000" stroke-width="3.2"/>
<rect x="56.2" y="2.8" width="42.1" height="18.1" rx="4" ry="4" fill="#000"/>
<rect x="58.2" y="4.8" width="37.5" height="13.9" rx="2.2" ry="2.2" fill="#fff"/>
<text transform="translate(0,16.7) scale(0.68,1)" font-size="14.2" x="86.03 102.94 119.26 128.82" y="0">CN17</text>
<polygon points="52.7,28.8 55.3,29.2 63.2,31.1 71,31.2 71,34.2 63.2,34.3 55.3,36.2 52.7,36.6" fill="#000"/>
<rect x="9" y="24" width="46.3" height="17.5" rx="4" ry="4" fill="#000"/>
<rect x="11" y="26" width="41.7" height="13.3" rx="2.2" ry="2.2" fill="#fff"/>
<polygon points="51.7,31.55 60.26,32.4 60.26,33 51.7,33.85" fill="#fff"/>
<text transform="translate(0,37) scale(0.68,1)" font-size="14.2" x="20 38.24 54.12 64.41" y="0">CN18</text>
<line x1="183" y1="20" x2="169.5" y2="30" stroke="#000" stroke-width="3.2"/>
<rect x="178.6" y="2.9" width="41.3" height="18.6" rx="4" ry="4" fill="#000"/>
<rect x="180.6" y="4.9" width="36.7" height="14.4" rx="2.2" ry="2.2" fill="#fff"/>
<text transform="translate(0,16.7) scale(0.68,1)" font-size="14.2" x="265.59 282.21 297.94 308.68" y="0">CN16</text>
<polygon points="219.2,36.4 216.6,36 208.7,34.1 200.5,34 200.5,31 208.7,30.9 216.6,29 219.2,28.6" fill="#000"/>
<rect x="217.2" y="23.3" width="44.7" height="17.9" rx="4" ry="4" fill="#000"/>
<rect x="219.2" y="25.3" width="40.1" height="13.7" rx="2.2" ry="2.2" fill="#fff"/>
<polygon points="220.2,33.65 211.64,32.8 211.64,32.2 220.2,31.35" fill="#fff"/>
<text transform="translate(0,36.7) scale(0.68,1)" font-size="14.2" x="324.85 342.5 358.53 368.24" y="0">CN15</text>
<polygon points="293.3,30.8 292.9,33.4 291,41.3 290.9,49.5 287.9,49.5 287.8,41.3 285.9,33.4 285.5,30.8" fill="#000"/>
<rect x="274.2" y="14" width="33.4" height="19" rx="4" ry="4" fill="#000"/>
<rect x="276.2" y="16" width="28.8" height="14.8" rx="2.2" ry="2.2" fill="#fff"/>
<polygon points="290.55,29.8 289.7,38.36 289.1,38.36 288.25,29.8" fill="#fff"/>
<text transform="translate(0,27.9) scale(0.68,1)" font-size="14.2" x="408.97 421.76 434.12" y="0">J12</text>
<line x1="171.5" y1="57" x2="160.5" y2="64" stroke="#000" stroke-width="3.2"/>
<rect x="167.5" y="40.2" width="41.7" height="18.7" rx="4" ry="4" fill="#000"/>
<rect x="169.5" y="42.2" width="37.1" height="14.5" rx="2.2" ry="2.2" fill="#fff"/>
<text transform="translate(0,54.7) scale(0.68,1)" font-size="14.2" x="249.41 262.65 281.32 296.32" y="0">JMP1</text>
<polygon points="63.3,60.5 65.9,60.9 73.8,62.8 80.3,62.9 80.3,65.9 73.8,66 65.9,67.9 63.3,68.3" fill="#000"/>
<rect x="30.2" y="55.3" width="35.7" height="18.1" rx="4" ry="4" fill="#000"/>
<rect x="32.2" y="57.3" width="31.1" height="13.9" rx="2.2" ry="2.2" fill="#fff"/>
<polygon points="62.3,63.25 70.86,64.1 70.86,64.7 62.3,65.55" fill="#fff"/>
<text transform="translate(0,69) scale(0.68,1)" font-size="14.2" x="50.44 64.12 73.82" y="0">J13</text>
<line x1="108.5" y1="83.5" x2="118.3" y2="74.5" stroke="#000" stroke-width="3.2"/>
<rect x="70.2" y="81.9" width="41.7" height="18.6" rx="4" ry="4" fill="#000"/>
<rect x="72.2" y="83.9" width="37.1" height="14.4" rx="2.2" ry="2.2" fill="#fff"/>
<text transform="translate(0,95.7) scale(0.68,1)" font-size="14.2" x="107.79 123.82 140.44 148.24" y="0">CN14</text>
<polygon points="251.7,76.5 249.1,76.1 241.2,74.2 235.5,74.1 235.5,71.1 241.2,71 249.1,69.1 251.7,68.7" fill="#000"/>
<rect x="249.7" y="63.1" width="36.4" height="18.6" rx="4" ry="4" fill="#000"/>
<rect x="251.7" y="65.1" width="31.8" height="14.4" rx="2.2" ry="2.2" fill="#fff"/>
<polygon points="252.7,73.75 244.14,72.9 244.14,72.3 252.7,71.45" fill="#fff"/>
<text transform="translate(0,77.5) scale(0.68,1)" font-size="14.2" x="375.15 389.12 398.38" y="0">J10</text>
<polygon points="226.5,95.6 229.1,96 237,97.9 244.4,98 244.4,101 237,101.1 229.1,103 226.5,103.4" fill="#000"/>
<rect x="204.2" y="91.1" width="24.9" height="17.5" rx="4" ry="4" fill="#000"/>
<rect x="206.2" y="93.1" width="20.3" height="13.3" rx="2.2" ry="2.2" fill="#fff"/>
<polygon points="225.5,98.35 234.06,99.2 234.06,99.8 225.5,100.65" fill="#fff"/>
<text transform="translate(0,104.7) scale(0.68,1)" font-size="14.2" x="305.29 317.06" y="0">J9</text>
<polygon points="319.5,132.9 319.9,130.3 321.8,122.4 321.9,114.8 324.9,114.8 325,122.4 326.9,130.3 327.3,132.9" fill="#000"/>
<rect x="310" y="130.9" width="26.3" height="18.7" rx="4" ry="4" fill="#000"/>
<rect x="312" y="132.9" width="21.7" height="14.5" rx="2.2" ry="2.2" fill="#fff"/>
<polygon points="322.25,133.9 323.1,125.34 323.7,125.34 324.55,133.9" fill="#fff"/>
<text transform="translate(0,144.6) scale(0.68,1)" font-size="14.2" x="461.47 473.82" y="0">J8</text>
<polygon points="45.7,156.4 48.3,156.8 56.2,158.7 63,158.8 63,161.8 56.2,161.9 48.3,163.8 45.7,164.2" fill="#000"/>
<rect x="22" y="151.1" width="25.9" height="18.7" rx="4" ry="4" fill="#000"/>
<rect x="24.6" y="153.7" width="21.1" height="13.5" rx="2.2" ry="2.2" fill="#fff"/>
<polygon points="44.7,159.15 53.26,160 53.26,160.6 44.7,161.45" fill="#fff"/>
<text transform="translate(0,164.8) scale(0.68,1)" font-size="14.2" x="39.85 51.18" y="0">J7</text>
<rect x="155.9" y="194.8" width="36.1" height="21.2" rx="4" ry="4" fill="#000"/>
<rect x="158.9" y="196.8" width="31" height="16.2" rx="2.2" ry="2.2" fill="#fff"/>
<text transform="translate(0,209) scale(0.68,1)" font-size="14.2" x="233.97 250.44 266.32" y="0">CPU</text>
<polygon points="309.9,230.9 310.3,228.3 312.2,220.4 312.3,212 315.3,212 315.4,220.4 317.3,228.3 317.7,230.9" fill="#000"/>
<rect x="292.3" y="228.9" width="43.5" height="18.8" rx="4" ry="4" fill="#000"/>
<rect x="294.7" y="230.9" width="38.5" height="14.8" rx="2.2" ry="2.2" fill="#fff"/>
<polygon points="312.65,231.9 313.5,223.34 314.1,223.34 314.95,231.9" fill="#fff"/>
<text transform="translate(0,242.6) scale(0.68,1)" font-size="14.2" x="433.68 449.71 465.88 477.35" y="0">CN13</text>
<polygon points="485.9,152.1 483.3,151.7 475.4,149.8 469.2,149.7 469.2,146.7 475.4,146.6 483.3,144.7 485.9,144.3" fill="#000"/>
<rect x="483.9" y="139.1" width="26.1" height="18.9" rx="4" ry="4" fill="#000"/>
<rect x="485.9" y="141.3" width="21.7" height="14.5" rx="2.2" ry="2.2" fill="#fff"/>
<polygon points="486.9,149.35 478.34,148.5 478.34,147.9 486.9,147.05" fill="#fff"/>
<text transform="translate(0,153.4) scale(0.68,1)" font-size="14.2" x="717.5 729.56" y="0">J6</text>
<g shape-rendering="crispEdges">
<rect x="738" y="127" width="45" height="15.8" fill="#000"/>
<rect x="739.8" y="127.8" width="40.8" height="14" fill="#fff"/>
</g>
<text transform="translate(0,139.1) scale(0.68,1)" font-size="14.2" x="1092.65 1108.24 1114.56 1132.65" y="0">BIOS</text>
<rect x="596" y="212" width="33" height="6.4" fill="#000"/>
<rect x="598" y="208" width="29" height="14" rx="1.5" ry="1.5" fill="#fff"/>
<text transform="translate(0,218.9) scale(0.68,1)" font-size="14.2" x="883.97 895.74 908.68" y="0">PC4</text>
<rect x="596" y="256.3" width="33" height="6.4" fill="#000"/>
<rect x="598" y="252.3" width="29" height="14" rx="1.5" ry="1.5" fill="#fff"/>
<text transform="translate(0,263.2) scale(0.68,1)" font-size="14.2" x="883.97 895.74 908.68" y="0">PC3</text>
<rect x="596" y="301" width="33" height="6.4" fill="#000"/>
<rect x="598" y="297" width="29" height="14" rx="1.5" ry="1.5" fill="#fff"/>
<text transform="translate(0,307.9) scale(0.68,1)" font-size="14.2" x="883.97 895.74 908.68" y="0">PC2</text>
<rect x="596" y="345" width="33" height="6.4" fill="#000"/>
<rect x="598" y="341" width="29" height="14" rx="1.5" ry="1.5" fill="#fff"/>
<text transform="translate(0,351.9) scale(0.68,1)" font-size="14.2" x="883.97 895.74 908.68" y="0">PC1</text>
<polygon points="39.6,338.9 42.2,339.3 50.1,341.2 56.2,341.3 56.2,344.3 50.1,344.4 42.2,346.3 39.6,346.7" fill="#000"/>
<rect x="5.8" y="332.4" width="36.4" height="17.8" rx="4" ry="4" fill="#000"/>
<rect x="7.8" y="334.4" width="31.8" height="13.6" rx="2.2" ry="2.2" fill="#fff"/>
<polygon points="38.6,341.65 47.16,342.5 47.16,343.1 38.6,343.95" fill="#fff"/>
<text transform="translate(0,345.7) scale(0.68,1)" font-size="14.2" x="15.59 28.38 42.65" y="0">FA4</text>
<line x1="108" y1="334" x2="97.5" y2="341.5" stroke="#000" stroke-width="3.2"/>
<rect x="103.9" y="318.4" width="35.4" height="17.5" rx="4" ry="4" fill="#000"/>
<rect x="105.9" y="320.4" width="30.8" height="13.3" rx="2.2" ry="2.2" fill="#fff"/>
<text transform="translate(0,331.5) scale(0.68,1)" font-size="14.2" x="159.26 172.06 186.32" y="0">FA3</text>
<polygon points="39.6,359.1 42.2,359.5 50.1,361.4 56.2,361.5 56.2,364.5 50.1,364.6 42.2,366.5 39.6,366.9" fill="#000"/>
<rect x="5.8" y="353.4" width="36.4" height="17.8" rx="4" ry="4" fill="#000"/>
<rect x="7.8" y="355.4" width="31.8" height="13.6" rx="2.2" ry="2.2" fill="#fff"/>
<polygon points="38.6,361.85 47.16,362.7 47.16,363.3 38.6,364.15" fill="#fff"/>
<text transform="translate(0,366.9) scale(0.68,1)" font-size="14.2" x="15.59 28.38 42.65" y="0">FA2</text>
<polygon points="121.9,361.3 119.3,360.9 111.4,359 106.2,358.9 106.2,355.9 111.4,355.8 119.3,353.9 121.9,353.5" fill="#000"/>
<rect x="119.9" y="348" width="36" height="18.7" rx="4" ry="4" fill="#000"/>
<rect x="121.9" y="350" width="31.4" height="14.5" rx="2.2" ry="2.2" fill="#fff"/>
<polygon points="122.9,358.55 114.34,357.7 114.34,357.1 122.9,356.25" fill="#fff"/>
<text transform="translate(0,361.9) scale(0.68,1)" font-size="14.2" x="185.74 198.97 215" y="0">FA1</text>
<polygon points="45,473.1 47.6,473.5 55.5,475.4 64.2,475.5 64.2,478.5 55.5,478.6 47.6,480.5 45,480.9" fill="#000"/>
<rect x="3" y="468.3" width="44.6" height="17.4" rx="4" ry="4" fill="#000"/>
<rect x="5" y="470.3" width="40" height="13.2" rx="2.2" ry="2.2" fill="#fff"/>
<polygon points="44,475.85 52.56,476.7 52.56,477.3 44,478.15" fill="#fff"/>
<text transform="translate(0,480.8) scale(0.68,1)" font-size="14.2" x="8.82 26.62 43.38 54.41" y="0">CN11</text>
<polygon points="99.1,481 98.7,483.6 96.8,491.5 96.7,500.5 93.7,500.5 93.6,491.5 91.7,483.6 91.3,481" fill="#000"/>
<rect x="73.3" y="465.3" width="43.1" height="17.9" rx="4" ry="4" fill="#000"/>
<rect x="73.8" y="467.3" width="40" height="13.7" rx="2.2" ry="2.2" fill="#fff"/>
<polygon points="96.35,480 95.5,488.56 94.9,488.56 94.05,480" fill="#fff"/>
<text transform="translate(0,480) scale(0.68,1)" font-size="14.2" x="111.18 127.79 144.41 158.97" y="0">CNN1</text>
<polygon points="73,514.1 75.6,514.5 83.5,516.4 92.4,516.5 92.4,519.5 83.5,519.6 75.6,521.5 73,521.9" fill="#000"/>
<rect x="31.3" y="509.1" width="44.3" height="18.2" rx="4" ry="4" fill="#000"/>
<rect x="33.3" y="511.1" width="39.7" height="14" rx="2.2" ry="2.2" fill="#fff"/>
<polygon points="72,516.85 80.56,517.7 80.56,518.3 72,519.15" fill="#fff"/>
<text transform="translate(0,522.4) scale(0.68,1)" font-size="14.2" x="51.18 68.97 85.59 95.59" y="0">CN10</text>
<polygon points="150.5,466.1 147.9,465.7 140,463.8 134,463.7 134,460.7 140,460.6 147.9,458.7 150.5,458.3" fill="#000"/>
<rect x="148.5" y="453.4" width="35" height="17.8" rx="4" ry="4" fill="#000"/>
<rect x="150.5" y="455.4" width="30.4" height="13.6" rx="2.2" ry="2.2" fill="#fff"/>
<polygon points="151.5,463.35 142.94,462.5 142.94,461.9 151.5,461.05" fill="#fff"/>
<text transform="translate(0,467) scale(0.68,1)" font-size="14.2" x="221.91 239.56 254.71" y="0">CN8</text>
<polygon points="171.4,509.5 174,509.9 181.9,511.8 188,511.9 188,514.9 181.9,515 174,516.9 171.4,517.3" fill="#000"/>
<rect x="138.2" y="504" width="35.8" height="19" rx="4" ry="4" fill="#000"/>
<rect x="140.2" y="506" width="31.2" height="14.8" rx="2.2" ry="2.2" fill="#fff"/>
<polygon points="170.4,512.25 178.96,513.1 178.96,513.7 170.4,514.55" fill="#fff"/>
<text transform="translate(0,518.3) scale(0.68,1)" font-size="14.2" x="208.53 226.76 240.29" y="0">CN9</text>
<g shape-rendering="crispEdges">
<rect x="329.2" y="442.1" width="40.9" height="16.5" fill="#000"/>
<rect x="331" y="443" width="37" height="13.8" fill="#fff"/>
</g>
<text transform="translate(0,453.6) scale(0.68,1)" font-size="14.2" x="488.97 501.47 515.44 528.82" y="0">DRAM</text>
<polygon points="483.8,431.4 486.4,431.8 494.3,433.7 500,433.8 500,436.8 494.3,436.9 486.4,438.8 483.8,439.2" fill="#000"/>
<rect x="451.3" y="427.9" width="34.7" height="15.5" rx="4" ry="4" fill="#000"/>
<rect x="452.5" y="429.1" width="31.3" height="12.3" rx="2.2" ry="2.2" fill="#fff"/>
<polygon points="482.8,434.15 491.36,435 491.36,435.6 482.8,436.45" fill="#fff"/>
<text transform="translate(0,440.3) scale(0.68,1)" font-size="14.2" x="666.91 683.53 696.76" y="0">CN7</text>
<polygon points="523.1,523.3 523.5,520.7 525.4,512.8 525.5,504.5 528.5,504.5 528.6,512.8 530.5,520.7 530.9,523.3" fill="#000"/>
<rect x="511.4" y="521.7" width="32.6" height="17.9" rx="4" ry="4" fill="#000"/>
<rect x="513" y="523.3" width="28.6" height="14.1" rx="2.2" ry="2.2" fill="#fff"/>
<polygon points="525.85,524.3 526.7,515.74 527.3,515.74 528.15,524.3" fill="#fff"/>
<text transform="translate(0,533.9) scale(0.68,1)" font-size="14.2" x="757.65 770.88 783.38" y="0">CN6</text>
<polygon points="571,433.9 568.4,433.5 560.5,431.6 554,431.5 554,428.5 560.5,428.4 568.4,426.5 571,426.1" fill="#000"/>
<rect x="570" y="421" width="34" height="17.2" rx="4" ry="4" fill="#000"/>
<rect x="571" y="422" width="32" height="14.9" rx="2.2" ry="2.2" fill="#fff"/>
<polygon points="572,431.15 563.44,430.3 563.44,429.7 572,428.85" fill="#fff"/>
<text transform="translate(0,433.9) scale(0.68,1)" font-size="14.2" x="843.97 858.97 871.91" y="0">CN5</text>
<polygon points="690.5,362.9 690.1,365.5 688.2,373.4 688.1,381 685.1,381 685,373.4 683.1,365.5 682.7,362.9" fill="#000"/>
<rect x="670.2" y="347.2" width="33.8" height="18.6" rx="4" ry="4" fill="#000"/>
<rect x="672.2" y="349" width="29.6" height="13.9" rx="2.2" ry="2.2" fill="#fff"/>
<polygon points="687.75,361.9 686.9,370.46 686.3,370.46 685.45,361.9" fill="#fff"/>
<text transform="translate(0,360.2) scale(0.68,1)" font-size="14.2" x="992.65 1009.12 1020.88" y="0">CN3</text>
<polygon points="720.5,375.1 720.1,377.7 718.2,385.6 718.1,393.2 715.1,393.2 715,385.6 713.1,377.7 712.7,375.1" fill="#000"/>
<rect x="704.1" y="359.3" width="25.9" height="18" rx="4" ry="4" fill="#000"/>
<rect x="706.1" y="361.3" width="21.3" height="13.8" rx="2.2" ry="2.2" fill="#fff"/>
<polygon points="717.75,374.1 716.9,382.66 716.3,382.66 715.45,374.1" fill="#fff"/>
<text transform="translate(0,372.3) scale(0.68,1)" font-size="14.2" x="1041.47 1052.65" y="0">J5</text>
<line x1="731" y1="434" x2="721.5" y2="424.5" stroke="#000" stroke-width="3.2"/>
<rect x="727.4" y="431.3" width="24.3" height="18.4" rx="4" ry="4" fill="#000"/>
<rect x="729.4" y="433.3" width="19.7" height="14.2" rx="2.2" ry="2.2" fill="#fff"/>
<text transform="translate(0,445) scale(0.68,1)" font-size="14.2" x="1075.59 1085.88" y="0">J4</text>
<polygon points="781.3,381.5 778.7,381.1 770.8,379.2 763,379.1 763,376.1 770.8,376 778.7,374.1 781.3,373.7" fill="#000"/>
<rect x="779.3" y="368.2" width="45.8" height="18.5" rx="4" ry="4" fill="#000"/>
<rect x="781.3" y="370.2" width="41.2" height="14.3" rx="2.2" ry="2.2" fill="#fff"/>
<polygon points="782.3,378.75 773.74,377.9 773.74,377.3 782.3,376.45" fill="#fff"/>
<text transform="translate(0,382) scale(0.68,1)" font-size="14.2" x="1151.32 1168.82 1184.56 1196.18" y="0">CN12</text>
<rect x="755" y="409.2" width="31.4" height="18.6" rx="4" ry="4" fill="#000"/>
<rect x="758" y="411.6" width="26.8" height="13.2" rx="2.2" ry="2.2" fill="#fff"/>
<text transform="translate(0,422.6) scale(0.68,1)" font-size="14.2" x="1116.18 1130.74 1146.76" y="0">MS1</text>
<line x1="714" y1="470.5" x2="704.5" y2="478.8" stroke="#000" stroke-width="3.2"/>
<rect x="710.2" y="454.3" width="34.6" height="17.9" rx="4" ry="4" fill="#000"/>
<rect x="712.2" y="456.3" width="30" height="13.7" rx="2.2" ry="2.2" fill="#fff"/>
<text transform="translate(0,467.9) scale(0.74,1)" font-size="14.2" x="967.16 979.86 992.16" y="0">CN2</text>
<polygon points="720,498.5 717.4,498.1 709.5,496.2 704,496.1 704,493.1 709.5,493 717.4,491.1 720,490.7" fill="#000"/>
<rect x="718" y="485.4" width="36.1" height="18.1" rx="4" ry="4" fill="#000"/>
<rect x="720" y="487.4" width="31.5" height="13.9" rx="2.2" ry="2.2" fill="#fff"/>
<polygon points="721,495.75 712.44,494.9 712.44,494.3 721,493.45" fill="#fff"/>
<text transform="translate(0,499) scale(0.74,1)" font-size="14.2" x="977.7 990.41 1005.27" y="0">CN1</text>
</svg>
</body></html>
